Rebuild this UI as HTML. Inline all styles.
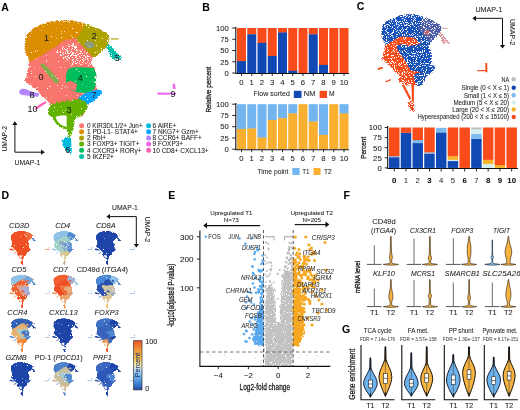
<!DOCTYPE html><html><head><meta charset="utf-8"><style>html,body{margin:0;padding:0;background:#fff;overflow:hidden}svg{display:block;will-change:transform;filter:blur(0.35px)}</style></head><body><svg xmlns="http://www.w3.org/2000/svg" width="520" height="410" viewBox="0 0 520 410" font-family='"Liberation Sans", sans-serif'><rect width="520" height="410" fill="#fff"/><text x="1.20" y="10.80" font-size="10.5" text-anchor="start" font-weight="bold" fill="#000" stroke="#000" stroke-width="0.06" >A</text><text x="202.30" y="10.70" font-size="10.5" text-anchor="start" font-weight="bold" fill="#000" stroke="#000" stroke-width="0.06" >B</text><text x="356.80" y="10.30" font-size="10.5" text-anchor="start" font-weight="bold" fill="#000" stroke="#000" stroke-width="0.06" >C</text><text x="1.60" y="198.60" font-size="10.5" text-anchor="start" font-weight="bold" fill="#000" stroke="#000" stroke-width="0.06" >D</text><text x="168.30" y="198.80" font-size="10.5" text-anchor="start" font-weight="bold" fill="#000" stroke="#000" stroke-width="0.06" >E</text><text x="343.60" y="198.80" font-size="10.5" text-anchor="start" font-weight="bold" fill="#000" stroke="#000" stroke-width="0.06" >F</text><text x="342.00" y="332.60" font-size="10.5" text-anchor="start" font-weight="bold" fill="#000" stroke="#000" stroke-width="0.06" >G</text><defs><filter id="spkL" x="-5%" y="-5%" width="110%" height="110%" color-interpolation-filters="sRGB"><feGaussianBlur in="SourceAlpha" stdDeviation="1.5" result="b"/><feTurbulence type="fractalNoise" baseFrequency="0.9" numOctaves="2" seed="21" result="n"/><feColorMatrix in="n" type="matrix" values="0 0 0 0 0 0 0 0 0 0 0 0 0 0 0 1 0 0 0 0" result="na"/><feComposite in="b" in2="na" operator="arithmetic" k1="0" k2="0.6" k3="2.0" k4="-1.2" result="m"/><feColorMatrix in="m" type="matrix" values="0 0 0 0 0 0 0 0 0 0 0 0 0 0 0 0 0 0 12 -6.0" result="a"/><feComposite in="SourceGraphic" in2="a" operator="in"/></filter><filter id="spkA" x="-5%" y="-5%" width="110%" height="110%" color-interpolation-filters="sRGB"><feGaussianBlur in="SourceAlpha" stdDeviation="1.6" result="b"/><feTurbulence type="fractalNoise" baseFrequency="0.8" numOctaves="2" seed="4" result="n"/><feColorMatrix in="n" type="matrix" values="0 0 0 0 0 0 0 0 0 0 0 0 0 0 0 1 0 0 0 0" result="na"/><feComposite in="b" in2="na" operator="arithmetic" k1="0" k2="0.8" k3="1.4" k4="-0.6" result="m"/><feColorMatrix in="m" type="matrix" values="0 0 0 0 0 0 0 0 0 0 0 0 0 0 0 0 0 0 12 -6.0" result="a"/><feComposite in="SourceGraphic" in2="a" operator="in"/></filter><filter id="spkC" x="-5%" y="-5%" width="110%" height="110%" color-interpolation-filters="sRGB"><feGaussianBlur in="SourceAlpha" stdDeviation="1.2" result="b"/><feTurbulence type="fractalNoise" baseFrequency="0.9" numOctaves="2" seed="7" result="n"/><feColorMatrix in="n" type="matrix" values="0 0 0 0 0 0 0 0 0 0 0 0 0 0 0 1 0 0 0 0" result="na"/><feComposite in="b" in2="na" operator="arithmetic" k1="0" k2="0.6" k3="2.0" k4="-0.87" result="m"/><feColorMatrix in="m" type="matrix" values="0 0 0 0 0 0 0 0 0 0 0 0 0 0 0 0 0 0 12 -6.0" result="a"/><feComposite in="SourceGraphic" in2="a" operator="in"/></filter><filter id="spkD" x="-5%" y="-5%" width="110%" height="110%" color-interpolation-filters="sRGB"><feGaussianBlur in="SourceAlpha" stdDeviation="0.6" result="b"/><feTurbulence type="fractalNoise" baseFrequency="0.9" numOctaves="2" seed="9" result="n"/><feColorMatrix in="n" type="matrix" values="0 0 0 0 0 0 0 0 0 0 0 0 0 0 0 1 0 0 0 0" result="na"/><feComposite in="b" in2="na" operator="arithmetic" k1="0" k2="0.8" k3="1.4" k4="-0.6" result="m"/><feColorMatrix in="m" type="matrix" values="0 0 0 0 0 0 0 0 0 0 0 0 0 0 0 0 0 0 12 -6.0" result="a"/><feComposite in="SourceGraphic" in2="a" operator="in"/></filter><filter id="spkE" x="-5%" y="-5%" width="110%" height="110%" color-interpolation-filters="sRGB"><feGaussianBlur in="SourceAlpha" stdDeviation="0.8" result="b"/><feTurbulence type="fractalNoise" baseFrequency="1.1" numOctaves="2" seed="13" result="n"/><feColorMatrix in="n" type="matrix" values="0 0 0 0 0 0 0 0 0 0 0 0 0 0 0 1 0 0 0 0" result="na"/><feComposite in="b" in2="na" operator="arithmetic" k1="0" k2="0.8" k3="1.6" k4="-0.75" result="m"/><feColorMatrix in="m" type="matrix" values="0 0 0 0 0 0 0 0 0 0 0 0 0 0 0 0 0 0 12 -6.0" result="a"/><feComposite in="SourceGraphic" in2="a" operator="in"/></filter></defs><g filter="url(#spkA)"><path d="M25.9,34.5 L31.7,29.6 L39.5,24.8 L49.3,21.8 L59.0,20.0 L72.5,20.3 L85.0,24.4 L97.5,28.1 L106.3,32.5 L110.0,36.3 L108.8,42.5 L105.0,48.8 L101.3,52.5 L96.3,56.3 L93.0,58.5 L91.0,62.0 L91.5,66.0 L95.1,69.0 L96.5,76.3 L95.8,83.6 L94.4,88.0 L90.0,95.0 L86.0,104.0 L70.0,106.0 L50.4,106.5 L47.9,101.6 L41.8,96.7 L38.2,91.8 L32.0,87.0 L27.2,83.3 L23.5,80.9 L26.0,77.2 L27.2,71.1 L28.4,65.0 L29.0,61.0 L27.8,58.0 L25.0,52.0 L24.6,46.5 L24.9,40.0Z" fill="#F8766D"/><path d="M46.0,62.4 L52.0,60.5 L64.8,63.1 L78.9,60.3 L90.2,61.7 L95.5,68.6 L95.5,80.1 L98.1,92.9 L87.8,105.6 L82.6,117.1 L79.0,115.8 L68.0,99.2 L56.0,79.7 L47.5,68.6Z" fill="#F8766D"/><path d="M40.0,64.5 L43.0,63.0 L50.0,70.0 L58.0,79.0 L59.0,83.0 L55.0,83.0 L48.0,75.0Z" fill="#84AC48"/><path d="M24.9,40.0 L25.9,34.5 L31.7,29.6 L39.5,24.8 L49.3,21.8 L59.0,20.0 L72.5,20.3 L80.0,22.0 L86.0,23.5 L83.0,28.0 L80.0,34.0 L77.0,38.0 L72.0,39.0 L66.1,39.6 L61.5,42.0 L56.9,46.0 L50.0,50.0 L43.0,54.6 L37.3,58.0 L30.0,61.5 L29.0,61.0 L27.8,58.0 L25.0,52.0 L24.6,46.5Z" fill="#DB8E00"/><path d="M86.0,23.5 L88.4,23.8 L97.5,28.1 L106.3,32.5 L110.0,36.3 L108.8,42.5 L105.0,48.8 L101.3,52.5 L96.3,56.3 L93.0,57.5 L90.0,54.0 L85.0,49.0 L80.0,43.5 L76.5,40.0 L77.0,38.0 L80.0,34.0 L83.0,28.0Z" fill="#AEA200"/><path d="M84.0,45.0 L87.0,41.0 L92.0,41.5 L95.0,44.0 L93.0,48.0 L88.0,48.5Z" fill="#8E9C78"/><path d="M68.0,69.0 L76.0,67.0 L86.0,67.5 L94.0,68.0 L96.5,75.0 L96.0,84.0 L94.5,89.0 L90.0,92.0 L84.0,93.0 L76.0,92.0 L69.0,89.0 L66.0,83.0 L66.0,75.0Z" fill="#00BD5C"/><path d="M64.5,84.0 L70.0,80.5 L77.0,84.0 L76.0,91.0 L69.0,89.0Z" fill="#F8766D"/><path d="M79.0,97.0 L84.0,94.0 L90.0,91.5 L96.0,90.0 L100.0,89.5 L103.9,92.0 L101.0,95.0 L97.0,99.0 L93.0,102.0 L88.0,104.5 L83.0,105.6 L79.0,103.0 L78.0,100.0Z" fill="#00A6FF"/><path d="M47.5,110.0 L50.0,106.0 L52.0,103.0 L55.0,104.5 L57.0,101.0 L59.5,103.5 L62.0,100.5 L65.0,102.5 L67.0,99.5 L70.5,101.8 L73.0,98.8 L76.0,100.5 L79.0,98.5 L82.0,100.8 L84.5,100.5 L86.5,104.0 L86.0,109.0 L82.0,113.0 L77.0,117.0 L75.0,120.0 L74.5,125.0 L73.0,131.0 L71.0,136.0 L70.0,138.5 L67.8,138.5 L67.3,132.0 L66.5,129.5 L63.0,129.0 L59.0,127.0 L56.0,124.0 L53.5,120.0 L52.0,117.5 L49.5,115.5 L47.5,113.0Z" fill="#64B200"/><path d="M74.0,100.0 L80.0,99.0 L86.0,103.0 L88.0,106.0 L87.0,110.0 L84.0,113.0 L82.5,115.0 L78.0,118.0 L75.0,117.0 L72.0,110.0 L70.0,104.0Z" fill="#64B200"/><path d="M55.5,117.0 L58.0,116.0 L62.0,115.5 L66.6,115.6 L66.6,126.5 L63.5,126.0 L60.0,124.0 L57.3,121.0Z" fill="#fff"/><path d="M63.0,138.0 L66.0,137.0 L70.0,137.5 L72.0,139.0 L71.5,145.0 L72.0,150.0 L71.5,154.2 L68.0,153.0 L64.0,149.0 L62.0,144.0 L61.5,140.0Z" fill="#00BADE"/><path d="M106.0,46.0 L108.5,44.0 L112.0,46.5 L115.0,50.0 L118.0,54.0 L121.5,56.0 L122.5,58.5 L120.0,60.5 L116.0,59.0 L113.0,61.0 L110.5,58.0 L109.0,53.0 L107.0,50.0Z" fill="#00C1A7"/></g><g filter="url(#spkL)"><path d="M57.0,48.5 L62.0,45.0 L68.0,42.5 L75.0,43.0 L80.0,46.5 L86.0,52.0 L92.0,56.5 L95.0,58.5 L95.0,64.0 L93.0,66.5 L85.0,66.0 L72.0,65.0 L62.0,59.5 L55.0,53.0Z" fill="#fff"/></g><g><path d="M111.0,38.2 L118.8,38.4 L118.8,39.6 L111.0,39.6Z" fill="#AEA200"/><path d="M19.3,91.0 L21.0,89.0 L24.0,88.8 L27.0,89.5 L30.0,91.0 L35.0,92.5 L39.4,93.5 L38.0,96.7 L32.0,96.5 L27.0,95.5 L22.0,95.0 L19.3,93.5Z" fill="#B385FF"/><path d="M34.5,108.5 L40.0,104.2 L45.5,101.0 L46.5,102.8 L41.0,106.5 L35.5,110.0Z" fill="#FF63B6"/><path d="M157.4,92.6 L165.0,92.8 L176.0,92.8 L176.0,94.6 L165.0,94.8 L157.4,94.4Z" fill="#EF67EB"/><path d="M172.6,83.7 L175.0,83.7 L175.6,89.0 L173.0,89.0Z" fill="#EF67EB"/></g><text x="40.90" y="79.50" font-size="9" text-anchor="middle" fill="#1a1a1a" stroke="#1a1a1a" stroke-width="0.06" >0</text><text x="46.40" y="41.20" font-size="9" text-anchor="middle" fill="#1a1a1a" stroke="#1a1a1a" stroke-width="0.06" >1</text><text x="94.30" y="39.10" font-size="9" text-anchor="middle" fill="#1a1a1a" stroke="#1a1a1a" stroke-width="0.06" >2</text><text x="69.00" y="113.20" font-size="9" text-anchor="middle" fill="#1a1a1a" stroke="#1a1a1a" stroke-width="0.06" >3</text><text x="80.30" y="81.40" font-size="9" text-anchor="middle" fill="#1a1a1a" stroke="#1a1a1a" stroke-width="0.06" >4</text><text x="117.30" y="60.50" font-size="9" text-anchor="middle" fill="#1a1a1a" stroke="#1a1a1a" stroke-width="0.06" >5</text><text x="67.80" y="153.00" font-size="9" text-anchor="middle" fill="#1a1a1a" stroke="#1a1a1a" stroke-width="0.06" >6</text><text x="94.00" y="97.60" font-size="9" text-anchor="middle" fill="#1a1a1a" stroke="#1a1a1a" stroke-width="0.06" >7</text><text x="31.90" y="97.60" font-size="9" text-anchor="middle" fill="#1a1a1a" stroke="#1a1a1a" stroke-width="0.06" >8</text><text x="173.00" y="96.70" font-size="9" text-anchor="middle" fill="#1a1a1a" stroke="#1a1a1a" stroke-width="0.06" >9</text><text x="32.50" y="112.20" font-size="9" text-anchor="middle" fill="#1a1a1a" stroke="#1a1a1a" stroke-width="0.06" >10</text><path d="M14.9,152.2 V124.5 M14.9,152.2 H41.5" stroke="#111" stroke-width="1" fill="none"/><path d="M12.3,125 L14.9,121.2 L17.5,125Z M41,149.6 L44.8,152.2 L41,154.8Z" fill="#111"/><text x="6.60" y="138.80" font-size="7" text-anchor="middle" fill="#222" stroke="#222" stroke-width="0.06" textLength="25.60" lengthAdjust="spacingAndGlyphs" transform="rotate(-90 6.60 138.80)" >UMAP-2</text><text x="27.40" y="164.50" font-size="7" text-anchor="middle" fill="#222" stroke="#222" stroke-width="0.06" textLength="25.60" lengthAdjust="spacingAndGlyphs" >UMAP-1</text><circle cx="81.6" cy="125.70" r="2.5" fill="#F8766D"/><text x="87.00" y="128.00" font-size="6.5" text-anchor="start" fill="#222" stroke="#222" stroke-width="0.06" textLength="55.60" lengthAdjust="spacingAndGlyphs" >0 KIR3DL1/2+ Jun+</text><circle cx="81.6" cy="131.84" r="2.5" fill="#DB8E00"/><text x="87.00" y="134.14" font-size="6.5" text-anchor="start" fill="#222" stroke="#222" stroke-width="0.06" >1 PD-L1- STAT4+</text><circle cx="81.6" cy="137.98" r="2.5" fill="#AEA200"/><text x="87.00" y="140.28" font-size="6.5" text-anchor="start" fill="#222" stroke="#222" stroke-width="0.06" >2 Rbl+</text><circle cx="81.6" cy="144.12" r="2.5" fill="#64B200"/><text x="87.00" y="146.42" font-size="6.5" text-anchor="start" fill="#222" stroke="#222" stroke-width="0.06" >3 FOXP3+ TIGIT+</text><circle cx="81.6" cy="150.26" r="2.5" fill="#00BD5C"/><text x="87.00" y="152.56" font-size="6.5" text-anchor="start" fill="#222" stroke="#222" stroke-width="0.06" >4 CXCR3+ ROR&#947;+</text><circle cx="81.6" cy="156.40" r="2.5" fill="#00C1A7"/><text x="87.00" y="158.70" font-size="6.5" text-anchor="start" fill="#222" stroke="#222" stroke-width="0.06" >5 IKZF2+</text><circle cx="148.6" cy="125.70" r="2.5" fill="#00BADE"/><text x="152.60" y="128.00" font-size="6.5" text-anchor="start" fill="#222" stroke="#222" stroke-width="0.06" >6 AIRE+</text><circle cx="148.6" cy="131.84" r="2.5" fill="#00A6FF"/><text x="152.60" y="134.14" font-size="6.5" text-anchor="start" fill="#222" stroke="#222" stroke-width="0.06" >7 NKG7+ Gzm+</text><circle cx="148.6" cy="137.98" r="2.5" fill="#B385FF"/><text x="152.60" y="140.28" font-size="6.5" text-anchor="start" fill="#222" stroke="#222" stroke-width="0.06" >8 CCR6+ BAFF+</text><circle cx="148.6" cy="144.12" r="2.5" fill="#EF67EB"/><text x="152.60" y="146.42" font-size="6.5" text-anchor="start" fill="#222" stroke="#222" stroke-width="0.06" >9 FOXP3+</text><circle cx="148.6" cy="150.26" r="2.5" fill="#FF63B6"/><text x="152.60" y="152.56" font-size="6.5" text-anchor="start" fill="#222" stroke="#222" stroke-width="0.06" >10 CD8+ CXCL13+</text><rect x="237.00" y="28.00" width="9" height="33.38" fill="#FA4B1A"/><rect x="237.00" y="61.08" width="9" height="11.93" fill="#1149B4"/><rect x="247.25" y="28.00" width="9" height="6.60" fill="#FA4B1A"/><rect x="247.25" y="34.30" width="9" height="38.70" fill="#1149B4"/><rect x="257.50" y="28.00" width="9" height="15.15" fill="#FA4B1A"/><rect x="257.50" y="42.85" width="9" height="30.15" fill="#1149B4"/><rect x="267.75" y="28.00" width="9" height="28.20" fill="#FA4B1A"/><rect x="267.75" y="55.90" width="9" height="17.10" fill="#1149B4"/><rect x="278.00" y="28.00" width="9" height="4.80" fill="#FA4B1A"/><rect x="278.00" y="32.50" width="9" height="40.50" fill="#1149B4"/><rect x="288.25" y="28.00" width="9" height="43.05" fill="#FA4B1A"/><rect x="288.25" y="70.75" width="9" height="2.25" fill="#1149B4"/><rect x="298.50" y="28.00" width="9" height="45.30" fill="#FA4B1A"/><rect x="308.75" y="28.00" width="9" height="6.60" fill="#FA4B1A"/><rect x="308.75" y="34.30" width="9" height="38.70" fill="#1149B4"/><rect x="319.00" y="28.00" width="9" height="37.20" fill="#FA4B1A"/><rect x="319.00" y="64.90" width="9" height="8.10" fill="#1149B4"/><rect x="329.25" y="28.00" width="9" height="45.30" fill="#FA4B1A"/><rect x="339.50" y="28.00" width="9" height="45.30" fill="#FA4B1A"/><path d="M235.8,26.80 V73.50 H349" stroke="#111" stroke-width="1.1" fill="none"/><path d="M232.2,73.00 H236" stroke="#111" stroke-width="0.9"/><text x="228.80" y="75.75" font-size="7.7" text-anchor="end" fill="#222" stroke="#222" stroke-width="0.06" >0</text><path d="M232.2,61.75 H236" stroke="#111" stroke-width="0.9"/><text x="228.80" y="64.50" font-size="7.7" text-anchor="end" fill="#222" stroke="#222" stroke-width="0.06" >25</text><path d="M232.2,50.50 H236" stroke="#111" stroke-width="0.9"/><text x="228.80" y="53.25" font-size="7.7" text-anchor="end" fill="#222" stroke="#222" stroke-width="0.06" >50</text><path d="M232.2,39.25 H236" stroke="#111" stroke-width="0.9"/><text x="228.80" y="42.00" font-size="7.7" text-anchor="end" fill="#222" stroke="#222" stroke-width="0.06" >75</text><path d="M232.2,28.00 H236" stroke="#111" stroke-width="0.9"/><text x="228.80" y="30.75" font-size="7.7" text-anchor="end" fill="#222" stroke="#222" stroke-width="0.06" >100</text><path d="M241.50,73.50 V76.00" stroke="#111" stroke-width="0.9"/><text x="241.50" y="84.90" font-size="7.7" text-anchor="middle" fill="#222" stroke="#222" stroke-width="0.06" >0</text><path d="M251.75,73.50 V76.00" stroke="#111" stroke-width="0.9"/><text x="251.75" y="84.90" font-size="7.7" text-anchor="middle" fill="#222" stroke="#222" stroke-width="0.06" >1</text><path d="M262.00,73.50 V76.00" stroke="#111" stroke-width="0.9"/><text x="262.00" y="84.90" font-size="7.7" text-anchor="middle" fill="#222" stroke="#222" stroke-width="0.06" >2</text><path d="M272.25,73.50 V76.00" stroke="#111" stroke-width="0.9"/><text x="272.25" y="84.90" font-size="7.7" text-anchor="middle" fill="#222" stroke="#222" stroke-width="0.06" >3</text><path d="M282.50,73.50 V76.00" stroke="#111" stroke-width="0.9"/><text x="282.50" y="84.90" font-size="7.7" text-anchor="middle" fill="#222" stroke="#222" stroke-width="0.06" >4</text><path d="M292.75,73.50 V76.00" stroke="#111" stroke-width="0.9"/><text x="292.75" y="84.90" font-size="7.7" text-anchor="middle" fill="#222" stroke="#222" stroke-width="0.06" >5</text><path d="M303.00,73.50 V76.00" stroke="#111" stroke-width="0.9"/><text x="303.00" y="84.90" font-size="7.7" text-anchor="middle" fill="#222" stroke="#222" stroke-width="0.06" >6</text><path d="M313.25,73.50 V76.00" stroke="#111" stroke-width="0.9"/><text x="313.25" y="84.90" font-size="7.7" text-anchor="middle" fill="#222" stroke="#222" stroke-width="0.06" >7</text><path d="M323.50,73.50 V76.00" stroke="#111" stroke-width="0.9"/><text x="323.50" y="84.90" font-size="7.7" text-anchor="middle" fill="#222" stroke="#222" stroke-width="0.06" >8</text><path d="M333.75,73.50 V76.00" stroke="#111" stroke-width="0.9"/><text x="333.75" y="84.90" font-size="7.7" text-anchor="middle" fill="#222" stroke="#222" stroke-width="0.06" >9</text><path d="M344.00,73.50 V76.00" stroke="#111" stroke-width="0.9"/><text x="344.00" y="84.90" font-size="7.7" text-anchor="middle" fill="#222" stroke="#222" stroke-width="0.06" >10</text><rect x="237.00" y="104.20" width="9" height="25.05" fill="#72B5F0"/><rect x="237.00" y="128.95" width="9" height="20.25" fill="#F9AF30"/><rect x="247.25" y="104.20" width="9" height="24.60" fill="#72B5F0"/><rect x="247.25" y="128.50" width="9" height="20.70" fill="#F9AF30"/><rect x="257.50" y="104.20" width="9" height="33.60" fill="#72B5F0"/><rect x="257.50" y="137.50" width="9" height="11.70" fill="#F9AF30"/><rect x="267.75" y="104.20" width="9" height="16.05" fill="#72B5F0"/><rect x="267.75" y="119.95" width="9" height="29.25" fill="#F9AF30"/><rect x="278.00" y="104.20" width="9" height="14.25" fill="#72B5F0"/><rect x="278.00" y="118.15" width="9" height="31.05" fill="#F9AF30"/><rect x="288.25" y="104.20" width="9" height="9.52" fill="#72B5F0"/><rect x="288.25" y="113.42" width="9" height="35.77" fill="#F9AF30"/><rect x="298.50" y="104.20" width="9" height="45.00" fill="#F9AF30"/><rect x="308.75" y="104.20" width="9" height="17.62" fill="#72B5F0"/><rect x="308.75" y="121.53" width="9" height="27.67" fill="#F9AF30"/><rect x="319.00" y="104.20" width="9" height="30.90" fill="#72B5F0"/><rect x="319.00" y="134.80" width="9" height="14.40" fill="#F9AF30"/><rect x="329.25" y="104.20" width="9" height="45.00" fill="#F9AF30"/><rect x="339.50" y="104.20" width="9" height="9.52" fill="#72B5F0"/><rect x="339.50" y="113.42" width="9" height="35.77" fill="#F9AF30"/><path d="M235.8,103.00 V149.70 H349" stroke="#111" stroke-width="1.1" fill="none"/><path d="M232.2,149.20 H236" stroke="#111" stroke-width="0.9"/><text x="228.80" y="151.95" font-size="7.7" text-anchor="end" fill="#222" stroke="#222" stroke-width="0.06" >0</text><path d="M232.2,137.95 H236" stroke="#111" stroke-width="0.9"/><text x="228.80" y="140.70" font-size="7.7" text-anchor="end" fill="#222" stroke="#222" stroke-width="0.06" >25</text><path d="M232.2,126.70 H236" stroke="#111" stroke-width="0.9"/><text x="228.80" y="129.45" font-size="7.7" text-anchor="end" fill="#222" stroke="#222" stroke-width="0.06" >50</text><path d="M232.2,115.45 H236" stroke="#111" stroke-width="0.9"/><text x="228.80" y="118.20" font-size="7.7" text-anchor="end" fill="#222" stroke="#222" stroke-width="0.06" >75</text><path d="M232.2,104.20 H236" stroke="#111" stroke-width="0.9"/><text x="228.80" y="106.95" font-size="7.7" text-anchor="end" fill="#222" stroke="#222" stroke-width="0.06" >100</text><path d="M241.50,149.70 V152.20" stroke="#111" stroke-width="0.9"/><text x="241.50" y="161.10" font-size="7.7" text-anchor="middle" fill="#222" stroke="#222" stroke-width="0.06" >0</text><path d="M251.75,149.70 V152.20" stroke="#111" stroke-width="0.9"/><text x="251.75" y="161.10" font-size="7.7" text-anchor="middle" fill="#222" stroke="#222" stroke-width="0.06" >1</text><path d="M262.00,149.70 V152.20" stroke="#111" stroke-width="0.9"/><text x="262.00" y="161.10" font-size="7.7" text-anchor="middle" fill="#222" stroke="#222" stroke-width="0.06" >2</text><path d="M272.25,149.70 V152.20" stroke="#111" stroke-width="0.9"/><text x="272.25" y="161.10" font-size="7.7" text-anchor="middle" fill="#222" stroke="#222" stroke-width="0.06" >3</text><path d="M282.50,149.70 V152.20" stroke="#111" stroke-width="0.9"/><text x="282.50" y="161.10" font-size="7.7" text-anchor="middle" fill="#222" stroke="#222" stroke-width="0.06" >4</text><path d="M292.75,149.70 V152.20" stroke="#111" stroke-width="0.9"/><text x="292.75" y="161.10" font-size="7.7" text-anchor="middle" fill="#222" stroke="#222" stroke-width="0.06" >5</text><path d="M303.00,149.70 V152.20" stroke="#111" stroke-width="0.9"/><text x="303.00" y="161.10" font-size="7.7" text-anchor="middle" fill="#222" stroke="#222" stroke-width="0.06" >6</text><path d="M313.25,149.70 V152.20" stroke="#111" stroke-width="0.9"/><text x="313.25" y="161.10" font-size="7.7" text-anchor="middle" fill="#222" stroke="#222" stroke-width="0.06" >7</text><path d="M323.50,149.70 V152.20" stroke="#111" stroke-width="0.9"/><text x="323.50" y="161.10" font-size="7.7" text-anchor="middle" fill="#222" stroke="#222" stroke-width="0.06" >8</text><path d="M333.75,149.70 V152.20" stroke="#111" stroke-width="0.9"/><text x="333.75" y="161.10" font-size="7.7" text-anchor="middle" fill="#222" stroke="#222" stroke-width="0.06" >9</text><path d="M344.00,149.70 V152.20" stroke="#111" stroke-width="0.9"/><text x="344.00" y="161.10" font-size="7.7" text-anchor="middle" fill="#222" stroke="#222" stroke-width="0.06" >10</text><text x="210.60" y="89.60" font-size="8.0" text-anchor="middle" fill="#222" textLength="46.00" lengthAdjust="spacingAndGlyphs" transform="rotate(-90 210.60 89.60)" stroke="#222" stroke-width="0.3">Relative percent</text><text x="253.50" y="96.00" font-size="7.2" text-anchor="start" fill="#222" stroke="#222" stroke-width="0.06" textLength="36.30" lengthAdjust="spacingAndGlyphs" >Flow sorted</text><rect x="293.8" y="90.8" width="7.7" height="7.2" fill="#1149B4"/><text x="303.80" y="96.00" font-size="7.2" text-anchor="start" fill="#222" stroke="#222" stroke-width="0.06" textLength="11.60" lengthAdjust="spacingAndGlyphs" >NM</text><rect x="319.6" y="90.8" width="7.4" height="7.2" fill="#FA4B1A"/><text x="329.00" y="96.00" font-size="7.2" text-anchor="start" fill="#222" stroke="#222" stroke-width="0.06" textLength="5.60" lengthAdjust="spacingAndGlyphs" >M</text><text x="257.30" y="174.10" font-size="7.2" text-anchor="start" fill="#222" stroke="#222" stroke-width="0.06" textLength="31.20" lengthAdjust="spacingAndGlyphs" >Time point</text><rect x="292.3" y="168" width="7.3" height="7" fill="#72B5F0"/><text x="302.30" y="174.10" font-size="7.2" text-anchor="start" fill="#222" stroke="#222" stroke-width="0.06" textLength="7.30" lengthAdjust="spacingAndGlyphs" >T1</text><rect x="313.5" y="168" width="7" height="7" fill="#F9AF30"/><text x="324.00" y="174.10" font-size="7.2" text-anchor="start" fill="#222" stroke="#222" stroke-width="0.06" textLength="7.70" lengthAdjust="spacingAndGlyphs" >T2</text><g filter="url(#spkC)"><g transform="translate(381.2,14.4) scale(0.70,0.735) translate(-24,-20)"><path d="M25.9,34.5 L31.7,29.6 L39.5,24.8 L49.3,21.8 L59.0,20.0 L72.5,20.3 L85.0,24.4 L97.5,28.1 L106.3,32.5 L110.0,36.3 L108.8,42.5 L105.0,48.8 L101.3,52.5 L96.3,56.3 L93.0,58.5 L91.0,62.0 L91.5,66.0 L95.1,69.0 L96.5,76.3 L95.8,83.6 L94.4,88.0 L90.0,95.0 L86.0,104.0 L70.0,106.0 L50.4,106.5 L47.9,101.6 L41.8,96.7 L38.2,91.8 L32.0,87.0 L27.2,83.3 L23.5,80.9 L26.0,77.2 L27.2,71.1 L28.4,65.0 L29.0,61.0 L27.8,58.0 L25.0,52.0 L24.6,46.5 L24.9,40.0Z" fill="#FA4B1A"/><path d="M46.0,62.4 L52.0,60.5 L64.8,63.1 L78.9,60.3 L90.2,61.7 L95.5,68.6 L95.5,80.1 L98.1,92.9 L87.8,105.6 L82.6,117.1 L79.0,115.8 L68.0,99.2 L56.0,79.7 L47.5,68.6Z" fill="#1652BA"/><path d="M24.9,40.0 L25.9,34.5 L31.7,29.6 L39.5,24.8 L49.3,21.8 L59.0,20.0 L72.5,20.3 L80.0,22.0 L86.0,23.5 L83.0,28.0 L80.0,34.0 L77.0,38.0 L72.0,39.0 L66.1,39.6 L61.5,42.0 L56.9,46.0 L50.0,50.0 L43.0,54.6 L37.3,58.0 L30.0,61.5 L29.0,61.0 L27.8,58.0 L25.0,52.0 L24.6,46.5Z" fill="#1652BA"/><path d="M25.9,34.5 L31.7,29.6 L39.5,24.8 L49.3,21.8 L59.0,20.0 L72.5,20.3 L85.0,24.4 L97.5,28.1 L106.3,32.5 L110.0,36.3 L108.8,42.5 L105.0,48.8 L101.3,52.5 L96.3,56.3 L95.0,62.0 L90.0,63.0 L80.0,61.0 L75.0,55.0 L70.0,51.5 L60.0,50.5 L50.0,50.5 L40.0,51.0 L32.0,53.0 L28.0,55.0 L25.0,52.0 L24.6,46.5 L24.9,40.0Z" fill="#1652BA"/><path d="M86.0,23.5 L88.4,23.8 L97.5,28.1 L106.3,32.5 L110.0,36.3 L108.8,42.5 L105.0,48.8 L101.3,52.5 L96.3,56.3 L93.0,57.5 L90.0,54.0 L85.0,49.0 L80.0,43.5 L76.5,40.0 L77.0,38.0 L80.0,34.0 L83.0,28.0Z" fill="#4A5CA8"/><path d="M84.0,45.0 L87.0,41.0 L92.0,41.5 L95.0,44.0 L93.0,48.0 L88.0,48.5Z" fill="#B86A78"/><path d="M68.0,69.0 L76.0,67.0 L86.0,67.5 L94.0,68.0 L96.5,75.0 L96.0,84.0 L94.5,89.0 L90.0,92.0 L84.0,93.0 L76.0,92.0 L69.0,89.0 L66.0,83.0 L66.0,75.0Z" fill="#1652BA"/><path d="M64.5,84.0 L70.0,80.5 L77.0,84.0 L76.0,91.0 L69.0,89.0Z" fill="#1652BA"/><path d="M79.0,97.0 L84.0,94.0 L90.0,91.5 L96.0,90.0 L100.0,89.5 L103.9,92.0 L101.0,95.0 L97.0,99.0 L93.0,102.0 L88.0,104.5 L83.0,105.6 L79.0,103.0 L78.0,100.0Z" fill="#1652BA"/><path d="M48.8,106.0 L52.0,101.0 L58.0,98.0 L66.0,96.5 L74.0,97.5 L80.0,99.0 L86.0,103.0 L88.0,106.0 L87.0,110.0 L84.0,113.0 L80.0,116.0 L70.0,117.5 L60.0,116.5 L52.0,114.0 L48.0,111.0Z" fill="#FA4B1A"/><path d="M74.0,100.0 L80.0,99.0 L86.0,103.0 L88.0,106.0 L87.0,110.0 L84.0,113.0 L82.5,115.0 L78.0,118.0 L75.0,117.0 L72.0,110.0 L70.0,104.0Z" fill="#1652BA"/><path d="M63.0,138.0 L66.0,137.0 L70.0,137.5 L72.0,139.0 L71.5,145.0 L72.0,150.0 L71.5,154.2 L68.0,153.0 L64.0,149.0 L62.0,144.0 L61.5,140.0Z" fill="#FA4B1A"/><path d="M106.0,46.0 L108.5,44.0 L112.0,46.5 L115.0,50.0 L118.0,54.0 L121.5,56.0 L122.5,58.5 L120.0,60.5 L116.0,59.0 L113.0,61.0 L110.5,58.0 L109.0,53.0 L107.0,50.0Z" fill="#D89A9A"/></g></g><g transform="translate(381.2,14.4) scale(0.70,0.735) translate(-24,-20)"><path d="M111.0,38.2 L118.8,38.4 L118.8,39.6 L111.0,39.6Z" fill="#C89090"/><path d="M53.5,116.0 L57.0,116.0 L67.0,134.5 L64.5,136.5Z" fill="#FA4B1A"/><path d="M67.2,115.0 L71.0,115.0 L70.6,139.0 L68.0,139.0Z" fill="#FA4B1A"/></g><path d="M377.5,68.2 L382.5,66.8 L383,68.6 L378,70Z M385,81.5 L390.5,79 L391,80.3 L385.5,82.6Z M477,70.2 L486,69.8 L486,71.2 L477,71.2Z M485.3,63 L487.2,63 L487.4,72.3 L485.5,72.3Z" fill="#FA4B1A"/><path d="M502.5,18.3 H475.5 M502.5,18.3 V45.5" stroke="#111" stroke-width="1" fill="none"/><path d="M476,15.7 L472.4,18.3 L476,20.9Z M499.9,45 L502.5,48.6 L505.1,45Z" fill="#111"/><text x="488.90" y="11.50" font-size="7" text-anchor="middle" fill="#222" stroke="#222" stroke-width="0.06" textLength="27.00" lengthAdjust="spacingAndGlyphs" >UMAP-1</text><text x="509.70" y="32.20" font-size="7" text-anchor="middle" fill="#222" stroke="#222" stroke-width="0.06" textLength="26.40" lengthAdjust="spacingAndGlyphs" transform="rotate(90 509.70 32.20)" >UMAP-2</text><circle cx="513.7" cy="79.30" r="2.2" fill="#BDBDBD"/><text x="509.00" y="81.65" font-size="6.6" text-anchor="end" fill="#222" stroke="#222" stroke-width="0.06" textLength="7.40" lengthAdjust="spacingAndGlyphs" >NA</text><circle cx="513.7" cy="87.80" r="2.2" fill="#1149B4"/><text x="509.00" y="90.15" font-size="6.6" text-anchor="end" fill="#222" stroke="#222" stroke-width="0.06" textLength="47.60" lengthAdjust="spacingAndGlyphs" >Single (0 &lt; X &#8804; 1)</text><circle cx="513.7" cy="95.20" r="2.2" fill="#7DB9EE"/><text x="509.00" y="97.55" font-size="6.6" text-anchor="end" fill="#222" stroke="#222" stroke-width="0.06" textLength="45.00" lengthAdjust="spacingAndGlyphs" >Small (1 &lt; X &#8804; 5)</text><circle cx="513.7" cy="102.20" r="2.2" fill="#D5EFEF"/><text x="509.00" y="104.55" font-size="6.6" text-anchor="end" fill="#222" stroke="#222" stroke-width="0.06" textLength="55.60" lengthAdjust="spacingAndGlyphs" >Medium (5 &lt; X &#8804; 20)</text><circle cx="513.7" cy="109.50" r="2.2" fill="#F7B32B"/><text x="509.00" y="111.85" font-size="6.6" text-anchor="end" fill="#222" stroke="#222" stroke-width="0.06" textLength="56.70" lengthAdjust="spacingAndGlyphs" >Large (20 &lt; X &#8804; 200)</text><circle cx="513.7" cy="117.00" r="2.2" fill="#FA4B1A"/><text x="509.00" y="119.35" font-size="6.6" text-anchor="end" fill="#222" stroke="#222" stroke-width="0.06" textLength="91.60" lengthAdjust="spacingAndGlyphs" >Hyperexpanded (200 &lt; X &#8804; 15100)</text><rect x="389.00" y="157.19" width="10.5" height="10.76" fill="#1149B4"/><rect x="389.00" y="156.18" width="10.5" height="1.06" fill="#7DB9EE"/><rect x="389.00" y="127.50" width="10.5" height="28.73" fill="#FA4B1A"/><rect x="400.74" y="132.75" width="10.5" height="35.20" fill="#1149B4"/><rect x="400.74" y="127.50" width="10.5" height="5.30" fill="#FA4B1A"/><rect x="412.48" y="143.05" width="10.5" height="24.90" fill="#1149B4"/><rect x="412.48" y="140.02" width="10.5" height="3.08" fill="#7DB9EE"/><rect x="412.48" y="127.50" width="10.5" height="12.57" fill="#FA4B1A"/><rect x="424.22" y="153.56" width="10.5" height="14.39" fill="#1149B4"/><rect x="424.22" y="152.35" width="10.5" height="1.26" fill="#7DB9EE"/><rect x="424.22" y="127.50" width="10.5" height="24.90" fill="#FA4B1A"/><rect x="435.96" y="132.35" width="10.5" height="35.60" fill="#1149B4"/><rect x="435.96" y="127.90" width="10.5" height="4.49" fill="#7DB9EE"/><rect x="435.96" y="127.50" width="10.5" height="0.45" fill="#D5EFEF"/><rect x="447.70" y="161.03" width="10.5" height="6.92" fill="#1149B4"/><rect x="447.70" y="159.82" width="10.5" height="1.26" fill="#D5EFEF"/><rect x="447.70" y="156.18" width="10.5" height="3.69" fill="#F7B32B"/><rect x="447.70" y="127.50" width="10.5" height="28.73" fill="#FA4B1A"/><rect x="459.44" y="127.50" width="10.5" height="40.45" fill="#FA4B1A"/><rect x="471.18" y="138.81" width="10.5" height="29.14" fill="#1149B4"/><rect x="471.18" y="133.96" width="10.5" height="4.90" fill="#7DB9EE"/><rect x="471.18" y="129.32" width="10.5" height="4.70" fill="#D5EFEF"/><rect x="471.18" y="127.50" width="10.5" height="1.87" fill="#BDBDBD"/><rect x="482.92" y="163.86" width="10.5" height="4.09" fill="#D5EFEF"/><rect x="482.92" y="159.82" width="10.5" height="4.09" fill="#F7B32B"/><rect x="482.92" y="127.50" width="10.5" height="32.37" fill="#FA4B1A"/><rect x="494.66" y="165.07" width="10.5" height="2.88" fill="#F7B32B"/><rect x="494.66" y="127.50" width="10.5" height="37.62" fill="#FA4B1A"/><rect x="506.40" y="127.50" width="10.5" height="40.45" fill="#FA4B1A"/><path d="M387.7,126.0 V168.5 H518" stroke="#111" stroke-width="1.1" fill="none"/><path d="M384.7,167.90 H387.7" stroke="#111" stroke-width="0.9"/><text x="381.80" y="170.70" font-size="7.8" text-anchor="end" fill="#222" stroke="#222" stroke-width="0.06" >0</text><path d="M384.7,157.80 H387.7" stroke="#111" stroke-width="0.9"/><text x="381.80" y="160.60" font-size="7.8" text-anchor="end" fill="#222" stroke="#222" stroke-width="0.06" >25</text><path d="M384.7,147.70 H387.7" stroke="#111" stroke-width="0.9"/><text x="381.80" y="150.50" font-size="7.8" text-anchor="end" fill="#222" stroke="#222" stroke-width="0.06" >50</text><path d="M384.7,137.60 H387.7" stroke="#111" stroke-width="0.9"/><text x="381.80" y="140.40" font-size="7.8" text-anchor="end" fill="#222" stroke="#222" stroke-width="0.06" >75</text><path d="M384.7,127.50 H387.7" stroke="#111" stroke-width="0.9"/><text x="381.80" y="130.30" font-size="7.8" text-anchor="end" fill="#222" stroke="#222" stroke-width="0.06" >100</text><path d="M394.25,168.50 V171.50" stroke="#111" stroke-width="0.9"/><text x="394.25" y="183.20" font-size="7.8" text-anchor="middle" font-weight="bold" fill="#111" stroke="#111" stroke-width="0.06" >0</text><path d="M405.99,168.50 V171.50" stroke="#111" stroke-width="0.9"/><text x="405.99" y="183.20" font-size="7.8" text-anchor="middle" fill="#333" stroke="#333" stroke-width="0.06" >1</text><path d="M417.73,168.50 V171.50" stroke="#111" stroke-width="0.9"/><text x="417.73" y="183.20" font-size="7.8" text-anchor="middle" fill="#333" stroke="#333" stroke-width="0.06" >2</text><path d="M429.47,168.50 V171.50" stroke="#111" stroke-width="0.9"/><text x="429.47" y="183.20" font-size="7.8" text-anchor="middle" font-weight="bold" fill="#111" stroke="#111" stroke-width="0.06" >3</text><path d="M441.21,168.50 V171.50" stroke="#111" stroke-width="0.9"/><text x="441.21" y="183.20" font-size="7.8" text-anchor="middle" fill="#333" stroke="#333" stroke-width="0.06" >4</text><path d="M452.95,168.50 V171.50" stroke="#111" stroke-width="0.9"/><text x="452.95" y="183.20" font-size="7.8" text-anchor="middle" fill="#333" stroke="#333" stroke-width="0.06" >5</text><path d="M464.69,168.50 V171.50" stroke="#111" stroke-width="0.9"/><text x="464.69" y="183.20" font-size="7.8" text-anchor="middle" font-weight="bold" fill="#111" stroke="#111" stroke-width="0.06" >6</text><path d="M476.43,168.50 V171.50" stroke="#111" stroke-width="0.9"/><text x="476.43" y="183.20" font-size="7.8" text-anchor="middle" fill="#333" stroke="#333" stroke-width="0.06" >7</text><path d="M488.17,168.50 V171.50" stroke="#111" stroke-width="0.9"/><text x="488.17" y="183.20" font-size="7.8" text-anchor="middle" font-weight="bold" fill="#111" stroke="#111" stroke-width="0.06" >8</text><path d="M499.91,168.50 V171.50" stroke="#111" stroke-width="0.9"/><text x="499.91" y="183.20" font-size="7.8" text-anchor="middle" font-weight="bold" fill="#111" stroke="#111" stroke-width="0.06" >9</text><path d="M511.65,168.50 V171.50" stroke="#111" stroke-width="0.9"/><text x="511.65" y="183.20" font-size="7.8" text-anchor="middle" font-weight="bold" fill="#111" stroke="#111" stroke-width="0.06" >10</text><text x="366.20" y="147.80" font-size="7.8" text-anchor="middle" fill="#222" textLength="22.00" lengthAdjust="spacingAndGlyphs" transform="rotate(-90 366.20 147.80)" stroke="#222" stroke-width="0.3">Percent</text><g filter="url(#spkD)"><g transform="translate(9.50,231.00) scale(0.255) translate(-18.8,-20)"><path d="M25.9,34.5 L31.7,29.6 L39.5,24.8 L49.3,21.8 L59.0,20.0 L72.5,20.3 L85.0,24.4 L97.5,28.1 L106.3,32.5 L110.0,36.3 L108.8,42.5 L105.0,48.8 L101.3,52.5 L96.3,56.3 L93.0,58.5 L91.0,62.0 L91.5,66.0 L95.1,69.0 L96.5,76.3 L95.8,83.6 L94.4,88.0 L90.0,95.0 L86.0,104.0 L70.0,106.0 L50.4,106.5 L47.9,101.6 L41.8,96.7 L38.2,91.8 L32.0,87.0 L27.2,83.3 L23.5,80.9 L26.0,77.2 L27.2,71.1 L28.4,65.0 L29.0,61.0 L27.8,58.0 L25.0,52.0 L24.6,46.5 L24.9,40.0Z" fill="#EE5024"/><path d="M46.0,62.4 L52.0,60.5 L64.8,63.1 L78.9,60.3 L90.2,61.7 L95.5,68.6 L95.5,80.1 L98.1,92.9 L87.8,105.6 L82.6,117.1 L79.0,115.8 L68.0,99.2 L56.0,79.7 L47.5,68.6Z" fill="#EE5024"/><path d="M24.9,40.0 L25.9,34.5 L31.7,29.6 L39.5,24.8 L49.3,21.8 L59.0,20.0 L72.5,20.3 L80.0,22.0 L86.0,23.5 L83.0,28.0 L80.0,34.0 L77.0,38.0 L72.0,39.0 L66.1,39.6 L61.5,42.0 L56.9,46.0 L50.0,50.0 L43.0,54.6 L37.3,58.0 L30.0,61.5 L29.0,61.0 L27.8,58.0 L25.0,52.0 L24.6,46.5Z" fill="#EE5024"/><path d="M86.0,23.5 L88.4,23.8 L97.5,28.1 L106.3,32.5 L110.0,36.3 L108.8,42.5 L105.0,48.8 L101.3,52.5 L96.3,56.3 L93.0,57.5 L90.0,54.0 L85.0,49.0 L80.0,43.5 L76.5,40.0 L77.0,38.0 L80.0,34.0 L83.0,28.0Z" fill="#F07040"/><path d="M84.0,45.0 L87.0,41.0 L92.0,41.5 L95.0,44.0 L93.0,48.0 L88.0,48.5Z" fill="#EE5024"/><path d="M68.0,69.0 L76.0,67.0 L86.0,67.5 L94.0,68.0 L96.5,75.0 L96.0,84.0 L94.5,89.0 L90.0,92.0 L84.0,93.0 L76.0,92.0 L69.0,89.0 L66.0,83.0 L66.0,75.0Z" fill="#EE5024"/><path d="M64.5,84.0 L70.0,80.5 L77.0,84.0 L76.0,91.0 L69.0,89.0Z" fill="#EE5024"/><path d="M79.0,97.0 L84.0,94.0 L90.0,91.5 L96.0,90.0 L100.0,89.5 L103.9,92.0 L101.0,95.0 L97.0,99.0 L93.0,102.0 L88.0,104.5 L83.0,105.6 L79.0,103.0 L78.0,100.0Z" fill="#EE5024"/><path d="M47.5,110.0 L50.0,106.0 L52.0,103.0 L55.0,104.5 L57.0,101.0 L59.5,103.5 L62.0,100.5 L65.0,102.5 L67.0,99.5 L70.5,101.8 L73.0,98.8 L76.0,100.5 L79.0,98.5 L82.0,100.8 L84.5,100.5 L86.5,104.0 L86.0,109.0 L82.0,113.0 L77.0,117.0 L75.0,120.0 L74.5,125.0 L73.0,131.0 L71.0,136.0 L70.0,138.5 L67.8,138.5 L67.3,132.0 L66.5,129.5 L63.0,129.0 L59.0,127.0 L56.0,124.0 L53.5,120.0 L52.0,117.5 L49.5,115.5 L47.5,113.0Z" fill="#EE5024"/><path d="M74.0,100.0 L80.0,99.0 L86.0,103.0 L88.0,106.0 L87.0,110.0 L84.0,113.0 L82.5,115.0 L78.0,118.0 L75.0,117.0 L72.0,110.0 L70.0,104.0Z" fill="#EE5024"/><path d="M55.5,117.0 L58.0,116.0 L62.0,115.5 L66.6,115.6 L66.6,126.5 L63.5,126.0 L60.0,124.0 L57.3,121.0Z" fill="#fff"/><path d="M63.0,138.0 L66.0,137.0 L70.0,137.5 L72.0,139.0 L71.5,145.0 L72.0,150.0 L71.5,154.2 L68.0,153.0 L64.0,149.0 L62.0,144.0 L61.5,140.0Z" fill="#EE5024"/><path d="M106.0,46.0 L108.5,44.0 L112.0,46.5 L115.0,50.0 L118.0,54.0 L121.5,56.0 L122.5,58.5 L120.0,60.5 L116.0,59.0 L113.0,61.0 L110.5,58.0 L109.0,53.0 L107.0,50.0Z" fill="#4F86D0"/></g></g><g transform="translate(9.50,231.00) scale(0.255) translate(-18.8,-20)"><path d="M111.0,38.2 L118.8,38.4 L118.8,39.6 L111.0,39.6Z" fill="#F07040"/><path d="M19.3,91.0 L21.0,89.0 L24.0,88.8 L27.0,89.5 L30.0,91.0 L35.0,92.5 L39.4,93.5 L38.0,96.7 L32.0,96.5 L27.0,95.5 L22.0,95.0 L19.3,93.5Z" fill="#EE5024"/><path d="M34.5,108.5 L40.0,104.2 L45.5,101.0 L46.5,102.8 L41.0,106.5 L35.5,110.0Z" fill="#EE5024"/><path d="M157.4,92.6 L165.0,92.8 L176.0,92.8 L176.0,94.6 L165.0,94.8 L157.4,94.4Z" fill="#EE5024"/><path d="M172.6,83.7 L175.0,83.7 L175.6,89.0 L173.0,89.0Z" fill="#EE5024"/></g><text x="19.20" y="228.40" font-size="7.4" text-anchor="middle" fill="#222" stroke="#222" stroke-width="0.06" textLength="20.20" lengthAdjust="spacingAndGlyphs" ><tspan font-style="italic">CD3D</tspan></text><g filter="url(#spkD)"><g transform="translate(52.10,231.00) scale(0.255) translate(-18.8,-20)"><path d="M25.9,34.5 L31.7,29.6 L39.5,24.8 L49.3,21.8 L59.0,20.0 L72.5,20.3 L85.0,24.4 L97.5,28.1 L106.3,32.5 L110.0,36.3 L108.8,42.5 L105.0,48.8 L101.3,52.5 L96.3,56.3 L93.0,58.5 L91.0,62.0 L91.5,66.0 L95.1,69.0 L96.5,76.3 L95.8,83.6 L94.4,88.0 L90.0,95.0 L86.0,104.0 L70.0,106.0 L50.4,106.5 L47.9,101.6 L41.8,96.7 L38.2,91.8 L32.0,87.0 L27.2,83.3 L23.5,80.9 L26.0,77.2 L27.2,71.1 L28.4,65.0 L29.0,61.0 L27.8,58.0 L25.0,52.0 L24.6,46.5 L24.9,40.0Z" fill="#A0D0C8"/><path d="M46.0,62.4 L52.0,60.5 L64.8,63.1 L78.9,60.3 L90.2,61.7 L95.5,68.6 L95.5,80.1 L98.1,92.9 L87.8,105.6 L82.6,117.1 L79.0,115.8 L68.0,99.2 L56.0,79.7 L47.5,68.6Z" fill="#88A8C8"/><path d="M24.9,40.0 L25.9,34.5 L31.7,29.6 L39.5,24.8 L49.3,21.8 L59.0,20.0 L72.5,20.3 L80.0,22.0 L86.0,23.5 L83.0,28.0 L80.0,34.0 L77.0,38.0 L72.0,39.0 L66.1,39.6 L61.5,42.0 L56.9,46.0 L50.0,50.0 L43.0,54.6 L37.3,58.0 L30.0,61.5 L29.0,61.0 L27.8,58.0 L25.0,52.0 L24.6,46.5Z" fill="#8CC0E6"/><path d="M86.0,23.5 L88.4,23.8 L97.5,28.1 L106.3,32.5 L110.0,36.3 L108.8,42.5 L105.0,48.8 L101.3,52.5 L96.3,56.3 L93.0,57.5 L90.0,54.0 L85.0,49.0 L80.0,43.5 L76.5,40.0 L77.0,38.0 L80.0,34.0 L83.0,28.0Z" fill="#4F86D0"/><path d="M84.0,45.0 L87.0,41.0 L92.0,41.5 L95.0,44.0 L93.0,48.0 L88.0,48.5Z" fill="#A0D0C8"/><path d="M68.0,69.0 L76.0,67.0 L86.0,67.5 L94.0,68.0 L96.5,75.0 L96.0,84.0 L94.5,89.0 L90.0,92.0 L84.0,93.0 L76.0,92.0 L69.0,89.0 L66.0,83.0 L66.0,75.0Z" fill="#6A98D0"/><path d="M64.5,84.0 L70.0,80.5 L77.0,84.0 L76.0,91.0 L69.0,89.0Z" fill="#A0D0C8"/><path d="M79.0,97.0 L84.0,94.0 L90.0,91.5 L96.0,90.0 L100.0,89.5 L103.9,92.0 L101.0,95.0 L97.0,99.0 L93.0,102.0 L88.0,104.5 L83.0,105.6 L79.0,103.0 L78.0,100.0Z" fill="#4F86D0"/><path d="M47.5,110.0 L50.0,106.0 L52.0,103.0 L55.0,104.5 L57.0,101.0 L59.5,103.5 L62.0,100.5 L65.0,102.5 L67.0,99.5 L70.5,101.8 L73.0,98.8 L76.0,100.5 L79.0,98.5 L82.0,100.8 L84.5,100.5 L86.5,104.0 L86.0,109.0 L82.0,113.0 L77.0,117.0 L75.0,120.0 L74.5,125.0 L73.0,131.0 L71.0,136.0 L70.0,138.5 L67.8,138.5 L67.3,132.0 L66.5,129.5 L63.0,129.0 L59.0,127.0 L56.0,124.0 L53.5,120.0 L52.0,117.5 L49.5,115.5 L47.5,113.0Z" fill="#D8C890"/><path d="M74.0,100.0 L80.0,99.0 L86.0,103.0 L88.0,106.0 L87.0,110.0 L84.0,113.0 L82.5,115.0 L78.0,118.0 L75.0,117.0 L72.0,110.0 L70.0,104.0Z" fill="#D8C890"/><path d="M55.5,117.0 L58.0,116.0 L62.0,115.5 L66.6,115.6 L66.6,126.5 L63.5,126.0 L60.0,124.0 L57.3,121.0Z" fill="#fff"/><path d="M63.0,138.0 L66.0,137.0 L70.0,137.5 L72.0,139.0 L71.5,145.0 L72.0,150.0 L71.5,154.2 L68.0,153.0 L64.0,149.0 L62.0,144.0 L61.5,140.0Z" fill="#C0A080"/><path d="M106.0,46.0 L108.5,44.0 L112.0,46.5 L115.0,50.0 L118.0,54.0 L121.5,56.0 L122.5,58.5 L120.0,60.5 L116.0,59.0 L113.0,61.0 L110.5,58.0 L109.0,53.0 L107.0,50.0Z" fill="#4F86D0"/></g></g><g transform="translate(52.10,231.00) scale(0.255) translate(-18.8,-20)"><path d="M111.0,38.2 L118.8,38.4 L118.8,39.6 L111.0,39.6Z" fill="#4F86D0"/><path d="M19.3,91.0 L21.0,89.0 L24.0,88.8 L27.0,89.5 L30.0,91.0 L35.0,92.5 L39.4,93.5 L38.0,96.7 L32.0,96.5 L27.0,95.5 L22.0,95.0 L19.3,93.5Z" fill="#8CC0E6"/><path d="M34.5,108.5 L40.0,104.2 L45.5,101.0 L46.5,102.8 L41.0,106.5 L35.5,110.0Z" fill="#8CC0E6"/><path d="M157.4,92.6 L165.0,92.8 L176.0,92.8 L176.0,94.6 L165.0,94.8 L157.4,94.4Z" fill="#4F86D0"/><path d="M172.6,83.7 L175.0,83.7 L175.6,89.0 L173.0,89.0Z" fill="#4F86D0"/></g><text x="62.70" y="228.40" font-size="7.4" text-anchor="middle" fill="#222" stroke="#222" stroke-width="0.06" ><tspan font-style="italic">CD4</tspan></text><g filter="url(#spkD)"><g transform="translate(94.70,231.00) scale(0.255) translate(-18.8,-20)"><path d="M25.9,34.5 L31.7,29.6 L39.5,24.8 L49.3,21.8 L59.0,20.0 L72.5,20.3 L85.0,24.4 L97.5,28.1 L106.3,32.5 L110.0,36.3 L108.8,42.5 L105.0,48.8 L101.3,52.5 L96.3,56.3 L93.0,58.5 L91.0,62.0 L91.5,66.0 L95.1,69.0 L96.5,76.3 L95.8,83.6 L94.4,88.0 L90.0,95.0 L86.0,104.0 L70.0,106.0 L50.4,106.5 L47.9,101.6 L41.8,96.7 L38.2,91.8 L32.0,87.0 L27.2,83.3 L23.5,80.9 L26.0,77.2 L27.2,71.1 L28.4,65.0 L29.0,61.0 L27.8,58.0 L25.0,52.0 L24.6,46.5 L24.9,40.0Z" fill="#1D44A8"/><path d="M46.0,62.4 L52.0,60.5 L64.8,63.1 L78.9,60.3 L90.2,61.7 L95.5,68.6 L95.5,80.1 L98.1,92.9 L87.8,105.6 L82.6,117.1 L79.0,115.8 L68.0,99.2 L56.0,79.7 L47.5,68.6Z" fill="#1D44A8"/><path d="M24.9,40.0 L25.9,34.5 L31.7,29.6 L39.5,24.8 L49.3,21.8 L59.0,20.0 L72.5,20.3 L80.0,22.0 L86.0,23.5 L83.0,28.0 L80.0,34.0 L77.0,38.0 L72.0,39.0 L66.1,39.6 L61.5,42.0 L56.9,46.0 L50.0,50.0 L43.0,54.6 L37.3,58.0 L30.0,61.5 L29.0,61.0 L27.8,58.0 L25.0,52.0 L24.6,46.5Z" fill="#1D44A8"/><path d="M86.0,23.5 L88.4,23.8 L97.5,28.1 L106.3,32.5 L110.0,36.3 L108.8,42.5 L105.0,48.8 L101.3,52.5 L96.3,56.3 L93.0,57.5 L90.0,54.0 L85.0,49.0 L80.0,43.5 L76.5,40.0 L77.0,38.0 L80.0,34.0 L83.0,28.0Z" fill="#1D44A8"/><path d="M84.0,45.0 L87.0,41.0 L92.0,41.5 L95.0,44.0 L93.0,48.0 L88.0,48.5Z" fill="#1D44A8"/><path d="M68.0,69.0 L76.0,67.0 L86.0,67.5 L94.0,68.0 L96.5,75.0 L96.0,84.0 L94.5,89.0 L90.0,92.0 L84.0,93.0 L76.0,92.0 L69.0,89.0 L66.0,83.0 L66.0,75.0Z" fill="#1D44A8"/><path d="M64.5,84.0 L70.0,80.5 L77.0,84.0 L76.0,91.0 L69.0,89.0Z" fill="#1D44A8"/><path d="M79.0,97.0 L84.0,94.0 L90.0,91.5 L96.0,90.0 L100.0,89.5 L103.9,92.0 L101.0,95.0 L97.0,99.0 L93.0,102.0 L88.0,104.5 L83.0,105.6 L79.0,103.0 L78.0,100.0Z" fill="#1D44A8"/><path d="M47.5,110.0 L50.0,106.0 L52.0,103.0 L55.0,104.5 L57.0,101.0 L59.5,103.5 L62.0,100.5 L65.0,102.5 L67.0,99.5 L70.5,101.8 L73.0,98.8 L76.0,100.5 L79.0,98.5 L82.0,100.8 L84.5,100.5 L86.5,104.0 L86.0,109.0 L82.0,113.0 L77.0,117.0 L75.0,120.0 L74.5,125.0 L73.0,131.0 L71.0,136.0 L70.0,138.5 L67.8,138.5 L67.3,132.0 L66.5,129.5 L63.0,129.0 L59.0,127.0 L56.0,124.0 L53.5,120.0 L52.0,117.5 L49.5,115.5 L47.5,113.0Z" fill="#1D44A8"/><path d="M74.0,100.0 L80.0,99.0 L86.0,103.0 L88.0,106.0 L87.0,110.0 L84.0,113.0 L82.5,115.0 L78.0,118.0 L75.0,117.0 L72.0,110.0 L70.0,104.0Z" fill="#1D44A8"/><path d="M55.5,117.0 L58.0,116.0 L62.0,115.5 L66.6,115.6 L66.6,126.5 L63.5,126.0 L60.0,124.0 L57.3,121.0Z" fill="#fff"/><path d="M63.0,138.0 L66.0,137.0 L70.0,137.5 L72.0,139.0 L71.5,145.0 L72.0,150.0 L71.5,154.2 L68.0,153.0 L64.0,149.0 L62.0,144.0 L61.5,140.0Z" fill="#1D44A8"/><path d="M106.0,46.0 L108.5,44.0 L112.0,46.5 L115.0,50.0 L118.0,54.0 L121.5,56.0 L122.5,58.5 L120.0,60.5 L116.0,59.0 L113.0,61.0 L110.5,58.0 L109.0,53.0 L107.0,50.0Z" fill="#1D44A8"/></g></g><g transform="translate(94.70,231.00) scale(0.255) translate(-18.8,-20)"><path d="M111.0,38.2 L118.8,38.4 L118.8,39.6 L111.0,39.6Z" fill="#1D44A8"/><path d="M19.3,91.0 L21.0,89.0 L24.0,88.8 L27.0,89.5 L30.0,91.0 L35.0,92.5 L39.4,93.5 L38.0,96.7 L32.0,96.5 L27.0,95.5 L22.0,95.0 L19.3,93.5Z" fill="#1D44A8"/><path d="M34.5,108.5 L40.0,104.2 L45.5,101.0 L46.5,102.8 L41.0,106.5 L35.5,110.0Z" fill="#1D44A8"/><path d="M157.4,92.6 L165.0,92.8 L176.0,92.8 L176.0,94.6 L165.0,94.8 L157.4,94.4Z" fill="#4F86D0"/><path d="M172.6,83.7 L175.0,83.7 L175.6,89.0 L173.0,89.0Z" fill="#4F86D0"/></g><text x="105.80" y="228.40" font-size="7.4" text-anchor="middle" fill="#222" stroke="#222" stroke-width="0.06" ><tspan font-style="italic">CD8A</tspan></text><g filter="url(#spkD)"><g transform="translate(9.50,274.70) scale(0.255) translate(-18.8,-20)"><path d="M25.9,34.5 L31.7,29.6 L39.5,24.8 L49.3,21.8 L59.0,20.0 L72.5,20.3 L85.0,24.4 L97.5,28.1 L106.3,32.5 L110.0,36.3 L108.8,42.5 L105.0,48.8 L101.3,52.5 L96.3,56.3 L93.0,58.5 L91.0,62.0 L91.5,66.0 L95.1,69.0 L96.5,76.3 L95.8,83.6 L94.4,88.0 L90.0,95.0 L86.0,104.0 L70.0,106.0 L50.4,106.5 L47.9,101.6 L41.8,96.7 L38.2,91.8 L32.0,87.0 L27.2,83.3 L23.5,80.9 L26.0,77.2 L27.2,71.1 L28.4,65.0 L29.0,61.0 L27.8,58.0 L25.0,52.0 L24.6,46.5 L24.9,40.0Z" fill="#F06030"/><path d="M46.0,62.4 L52.0,60.5 L64.8,63.1 L78.9,60.3 L90.2,61.7 L95.5,68.6 L95.5,80.1 L98.1,92.9 L87.8,105.6 L82.6,117.1 L79.0,115.8 L68.0,99.2 L56.0,79.7 L47.5,68.6Z" fill="#E0A088"/><path d="M24.9,40.0 L25.9,34.5 L31.7,29.6 L39.5,24.8 L49.3,21.8 L59.0,20.0 L72.5,20.3 L80.0,22.0 L86.0,23.5 L83.0,28.0 L80.0,34.0 L77.0,38.0 L72.0,39.0 L66.1,39.6 L61.5,42.0 L56.9,46.0 L50.0,50.0 L43.0,54.6 L37.3,58.0 L30.0,61.5 L29.0,61.0 L27.8,58.0 L25.0,52.0 L24.6,46.5Z" fill="#8CC0E6"/><path d="M86.0,23.5 L88.4,23.8 L97.5,28.1 L106.3,32.5 L110.0,36.3 L108.8,42.5 L105.0,48.8 L101.3,52.5 L96.3,56.3 L93.0,57.5 L90.0,54.0 L85.0,49.0 L80.0,43.5 L76.5,40.0 L77.0,38.0 L80.0,34.0 L83.0,28.0Z" fill="#70A8DC"/><path d="M84.0,45.0 L87.0,41.0 L92.0,41.5 L95.0,44.0 L93.0,48.0 L88.0,48.5Z" fill="#F06030"/><path d="M68.0,69.0 L76.0,67.0 L86.0,67.5 L94.0,68.0 L96.5,75.0 L96.0,84.0 L94.5,89.0 L90.0,92.0 L84.0,93.0 L76.0,92.0 L69.0,89.0 L66.0,83.0 L66.0,75.0Z" fill="#A8B0D8"/><path d="M64.5,84.0 L70.0,80.5 L77.0,84.0 L76.0,91.0 L69.0,89.0Z" fill="#F06030"/><path d="M79.0,97.0 L84.0,94.0 L90.0,91.5 L96.0,90.0 L100.0,89.5 L103.9,92.0 L101.0,95.0 L97.0,99.0 L93.0,102.0 L88.0,104.5 L83.0,105.6 L79.0,103.0 L78.0,100.0Z" fill="#A0A8D8"/><path d="M47.5,110.0 L50.0,106.0 L52.0,103.0 L55.0,104.5 L57.0,101.0 L59.5,103.5 L62.0,100.5 L65.0,102.5 L67.0,99.5 L70.5,101.8 L73.0,98.8 L76.0,100.5 L79.0,98.5 L82.0,100.8 L84.5,100.5 L86.5,104.0 L86.0,109.0 L82.0,113.0 L77.0,117.0 L75.0,120.0 L74.5,125.0 L73.0,131.0 L71.0,136.0 L70.0,138.5 L67.8,138.5 L67.3,132.0 L66.5,129.5 L63.0,129.0 L59.0,127.0 L56.0,124.0 L53.5,120.0 L52.0,117.5 L49.5,115.5 L47.5,113.0Z" fill="#F05828"/><path d="M74.0,100.0 L80.0,99.0 L86.0,103.0 L88.0,106.0 L87.0,110.0 L84.0,113.0 L82.5,115.0 L78.0,118.0 L75.0,117.0 L72.0,110.0 L70.0,104.0Z" fill="#F05828"/><path d="M55.5,117.0 L58.0,116.0 L62.0,115.5 L66.6,115.6 L66.6,126.5 L63.5,126.0 L60.0,124.0 L57.3,121.0Z" fill="#fff"/><path d="M63.0,138.0 L66.0,137.0 L70.0,137.5 L72.0,139.0 L71.5,145.0 L72.0,150.0 L71.5,154.2 L68.0,153.0 L64.0,149.0 L62.0,144.0 L61.5,140.0Z" fill="#EE5024"/><path d="M106.0,46.0 L108.5,44.0 L112.0,46.5 L115.0,50.0 L118.0,54.0 L121.5,56.0 L122.5,58.5 L120.0,60.5 L116.0,59.0 L113.0,61.0 L110.5,58.0 L109.0,53.0 L107.0,50.0Z" fill="#4F86D0"/></g></g><g transform="translate(9.50,274.70) scale(0.255) translate(-18.8,-20)"><path d="M111.0,38.2 L118.8,38.4 L118.8,39.6 L111.0,39.6Z" fill="#70A8DC"/><path d="M19.3,91.0 L21.0,89.0 L24.0,88.8 L27.0,89.5 L30.0,91.0 L35.0,92.5 L39.4,93.5 L38.0,96.7 L32.0,96.5 L27.0,95.5 L22.0,95.0 L19.3,93.5Z" fill="#F08A3A"/><path d="M34.5,108.5 L40.0,104.2 L45.5,101.0 L46.5,102.8 L41.0,106.5 L35.5,110.0Z" fill="#F08A3A"/><path d="M157.4,92.6 L165.0,92.8 L176.0,92.8 L176.0,94.6 L165.0,94.8 L157.4,94.4Z" fill="#8CC0E6"/><path d="M172.6,83.7 L175.0,83.7 L175.6,89.0 L173.0,89.0Z" fill="#8CC0E6"/></g><text x="18.90" y="272.20" font-size="7.4" text-anchor="middle" fill="#222" stroke="#222" stroke-width="0.06" ><tspan font-style="italic">CD5</tspan></text><g filter="url(#spkD)"><g transform="translate(52.10,274.70) scale(0.255) translate(-18.8,-20)"><path d="M25.9,34.5 L31.7,29.6 L39.5,24.8 L49.3,21.8 L59.0,20.0 L72.5,20.3 L85.0,24.4 L97.5,28.1 L106.3,32.5 L110.0,36.3 L108.8,42.5 L105.0,48.8 L101.3,52.5 L96.3,56.3 L93.0,58.5 L91.0,62.0 L91.5,66.0 L95.1,69.0 L96.5,76.3 L95.8,83.6 L94.4,88.0 L90.0,95.0 L86.0,104.0 L70.0,106.0 L50.4,106.5 L47.9,101.6 L41.8,96.7 L38.2,91.8 L32.0,87.0 L27.2,83.3 L23.5,80.9 L26.0,77.2 L27.2,71.1 L28.4,65.0 L29.0,61.0 L27.8,58.0 L25.0,52.0 L24.6,46.5 L24.9,40.0Z" fill="#EE5024"/><path d="M46.0,62.4 L52.0,60.5 L64.8,63.1 L78.9,60.3 L90.2,61.7 L95.5,68.6 L95.5,80.1 L98.1,92.9 L87.8,105.6 L82.6,117.1 L79.0,115.8 L68.0,99.2 L56.0,79.7 L47.5,68.6Z" fill="#F07040"/><path d="M24.9,40.0 L25.9,34.5 L31.7,29.6 L39.5,24.8 L49.3,21.8 L59.0,20.0 L72.5,20.3 L80.0,22.0 L86.0,23.5 L83.0,28.0 L80.0,34.0 L77.0,38.0 L72.0,39.0 L66.1,39.6 L61.5,42.0 L56.9,46.0 L50.0,50.0 L43.0,54.6 L37.3,58.0 L30.0,61.5 L29.0,61.0 L27.8,58.0 L25.0,52.0 L24.6,46.5Z" fill="#F06030"/><path d="M86.0,23.5 L88.4,23.8 L97.5,28.1 L106.3,32.5 L110.0,36.3 L108.8,42.5 L105.0,48.8 L101.3,52.5 L96.3,56.3 L93.0,57.5 L90.0,54.0 L85.0,49.0 L80.0,43.5 L76.5,40.0 L77.0,38.0 L80.0,34.0 L83.0,28.0Z" fill="#A0B8D8"/><path d="M84.0,45.0 L87.0,41.0 L92.0,41.5 L95.0,44.0 L93.0,48.0 L88.0,48.5Z" fill="#EE5024"/><path d="M68.0,69.0 L76.0,67.0 L86.0,67.5 L94.0,68.0 L96.5,75.0 L96.0,84.0 L94.5,89.0 L90.0,92.0 L84.0,93.0 L76.0,92.0 L69.0,89.0 L66.0,83.0 L66.0,75.0Z" fill="#E8B080"/><path d="M64.5,84.0 L70.0,80.5 L77.0,84.0 L76.0,91.0 L69.0,89.0Z" fill="#EE5024"/><path d="M79.0,97.0 L84.0,94.0 L90.0,91.5 L96.0,90.0 L100.0,89.5 L103.9,92.0 L101.0,95.0 L97.0,99.0 L93.0,102.0 L88.0,104.5 L83.0,105.6 L79.0,103.0 L78.0,100.0Z" fill="#E0A080"/><path d="M47.5,110.0 L50.0,106.0 L52.0,103.0 L55.0,104.5 L57.0,101.0 L59.5,103.5 L62.0,100.5 L65.0,102.5 L67.0,99.5 L70.5,101.8 L73.0,98.8 L76.0,100.5 L79.0,98.5 L82.0,100.8 L84.5,100.5 L86.5,104.0 L86.0,109.0 L82.0,113.0 L77.0,117.0 L75.0,120.0 L74.5,125.0 L73.0,131.0 L71.0,136.0 L70.0,138.5 L67.8,138.5 L67.3,132.0 L66.5,129.5 L63.0,129.0 L59.0,127.0 L56.0,124.0 L53.5,120.0 L52.0,117.5 L49.5,115.5 L47.5,113.0Z" fill="#E8A870"/><path d="M74.0,100.0 L80.0,99.0 L86.0,103.0 L88.0,106.0 L87.0,110.0 L84.0,113.0 L82.5,115.0 L78.0,118.0 L75.0,117.0 L72.0,110.0 L70.0,104.0Z" fill="#E8A870"/><path d="M55.5,117.0 L58.0,116.0 L62.0,115.5 L66.6,115.6 L66.6,126.5 L63.5,126.0 L60.0,124.0 L57.3,121.0Z" fill="#fff"/><path d="M63.0,138.0 L66.0,137.0 L70.0,137.5 L72.0,139.0 L71.5,145.0 L72.0,150.0 L71.5,154.2 L68.0,153.0 L64.0,149.0 L62.0,144.0 L61.5,140.0Z" fill="#F08A3A"/><path d="M106.0,46.0 L108.5,44.0 L112.0,46.5 L115.0,50.0 L118.0,54.0 L121.5,56.0 L122.5,58.5 L120.0,60.5 L116.0,59.0 L113.0,61.0 L110.5,58.0 L109.0,53.0 L107.0,50.0Z" fill="#8CC0E6"/></g></g><g transform="translate(52.10,274.70) scale(0.255) translate(-18.8,-20)"><path d="M111.0,38.2 L118.8,38.4 L118.8,39.6 L111.0,39.6Z" fill="#A0B8D8"/><path d="M19.3,91.0 L21.0,89.0 L24.0,88.8 L27.0,89.5 L30.0,91.0 L35.0,92.5 L39.4,93.5 L38.0,96.7 L32.0,96.5 L27.0,95.5 L22.0,95.0 L19.3,93.5Z" fill="#F08A3A"/><path d="M34.5,108.5 L40.0,104.2 L45.5,101.0 L46.5,102.8 L41.0,106.5 L35.5,110.0Z" fill="#F08A3A"/><path d="M157.4,92.6 L165.0,92.8 L176.0,92.8 L176.0,94.6 L165.0,94.8 L157.4,94.4Z" fill="#8CC0E6"/><path d="M172.6,83.7 L175.0,83.7 L175.6,89.0 L173.0,89.0Z" fill="#8CC0E6"/></g><text x="60.40" y="272.20" font-size="7.4" text-anchor="middle" fill="#222" stroke="#222" stroke-width="0.06" ><tspan font-style="italic">CD7</tspan></text><g filter="url(#spkD)"><g transform="translate(94.70,274.70) scale(0.255) translate(-18.8,-20)"><path d="M25.9,34.5 L31.7,29.6 L39.5,24.8 L49.3,21.8 L59.0,20.0 L72.5,20.3 L85.0,24.4 L97.5,28.1 L106.3,32.5 L110.0,36.3 L108.8,42.5 L105.0,48.8 L101.3,52.5 L96.3,56.3 L93.0,58.5 L91.0,62.0 L91.5,66.0 L95.1,69.0 L96.5,76.3 L95.8,83.6 L94.4,88.0 L90.0,95.0 L86.0,104.0 L70.0,106.0 L50.4,106.5 L47.9,101.6 L41.8,96.7 L38.2,91.8 L32.0,87.0 L27.2,83.3 L23.5,80.9 L26.0,77.2 L27.2,71.1 L28.4,65.0 L29.0,61.0 L27.8,58.0 L25.0,52.0 L24.6,46.5 L24.9,40.0Z" fill="#2A50B0"/><path d="M46.0,62.4 L52.0,60.5 L64.8,63.1 L78.9,60.3 L90.2,61.7 L95.5,68.6 L95.5,80.1 L98.1,92.9 L87.8,105.6 L82.6,117.1 L79.0,115.8 L68.0,99.2 L56.0,79.7 L47.5,68.6Z" fill="#D8C8A0"/><path d="M24.9,40.0 L25.9,34.5 L31.7,29.6 L39.5,24.8 L49.3,21.8 L59.0,20.0 L72.5,20.3 L80.0,22.0 L86.0,23.5 L83.0,28.0 L80.0,34.0 L77.0,38.0 L72.0,39.0 L66.1,39.6 L61.5,42.0 L56.9,46.0 L50.0,50.0 L43.0,54.6 L37.3,58.0 L30.0,61.5 L29.0,61.0 L27.8,58.0 L25.0,52.0 L24.6,46.5Z" fill="#4A88D8"/><path d="M86.0,23.5 L88.4,23.8 L97.5,28.1 L106.3,32.5 L110.0,36.3 L108.8,42.5 L105.0,48.8 L101.3,52.5 L96.3,56.3 L93.0,57.5 L90.0,54.0 L85.0,49.0 L80.0,43.5 L76.5,40.0 L77.0,38.0 L80.0,34.0 L83.0,28.0Z" fill="#8CC0E6"/><path d="M84.0,45.0 L87.0,41.0 L92.0,41.5 L95.0,44.0 L93.0,48.0 L88.0,48.5Z" fill="#2A50B0"/><path d="M68.0,69.0 L76.0,67.0 L86.0,67.5 L94.0,68.0 L96.5,75.0 L96.0,84.0 L94.5,89.0 L90.0,92.0 L84.0,93.0 L76.0,92.0 L69.0,89.0 L66.0,83.0 L66.0,75.0Z" fill="#C8C0A8"/><path d="M64.5,84.0 L70.0,80.5 L77.0,84.0 L76.0,91.0 L69.0,89.0Z" fill="#2A50B0"/><path d="M79.0,97.0 L84.0,94.0 L90.0,91.5 L96.0,90.0 L100.0,89.5 L103.9,92.0 L101.0,95.0 L97.0,99.0 L93.0,102.0 L88.0,104.5 L83.0,105.6 L79.0,103.0 L78.0,100.0Z" fill="#90A8C8"/><path d="M47.5,110.0 L50.0,106.0 L52.0,103.0 L55.0,104.5 L57.0,101.0 L59.5,103.5 L62.0,100.5 L65.0,102.5 L67.0,99.5 L70.5,101.8 L73.0,98.8 L76.0,100.5 L79.0,98.5 L82.0,100.8 L84.5,100.5 L86.5,104.0 L86.0,109.0 L82.0,113.0 L77.0,117.0 L75.0,120.0 L74.5,125.0 L73.0,131.0 L71.0,136.0 L70.0,138.5 L67.8,138.5 L67.3,132.0 L66.5,129.5 L63.0,129.0 L59.0,127.0 L56.0,124.0 L53.5,120.0 L52.0,117.5 L49.5,115.5 L47.5,113.0Z" fill="#E0C898"/><path d="M74.0,100.0 L80.0,99.0 L86.0,103.0 L88.0,106.0 L87.0,110.0 L84.0,113.0 L82.5,115.0 L78.0,118.0 L75.0,117.0 L72.0,110.0 L70.0,104.0Z" fill="#E0C898"/><path d="M55.5,117.0 L58.0,116.0 L62.0,115.5 L66.6,115.6 L66.6,126.5 L63.5,126.0 L60.0,124.0 L57.3,121.0Z" fill="#fff"/><path d="M63.0,138.0 L66.0,137.0 L70.0,137.5 L72.0,139.0 L71.5,145.0 L72.0,150.0 L71.5,154.2 L68.0,153.0 L64.0,149.0 L62.0,144.0 L61.5,140.0Z" fill="#F3C060"/><path d="M106.0,46.0 L108.5,44.0 L112.0,46.5 L115.0,50.0 L118.0,54.0 L121.5,56.0 L122.5,58.5 L120.0,60.5 L116.0,59.0 L113.0,61.0 L110.5,58.0 L109.0,53.0 L107.0,50.0Z" fill="#4F86D0"/></g></g><g transform="translate(94.70,274.70) scale(0.255) translate(-18.8,-20)"><path d="M111.0,38.2 L118.8,38.4 L118.8,39.6 L111.0,39.6Z" fill="#8CC0E6"/><path d="M19.3,91.0 L21.0,89.0 L24.0,88.8 L27.0,89.5 L30.0,91.0 L35.0,92.5 L39.4,93.5 L38.0,96.7 L32.0,96.5 L27.0,95.5 L22.0,95.0 L19.3,93.5Z" fill="#1D44A8"/><path d="M34.5,108.5 L40.0,104.2 L45.5,101.0 L46.5,102.8 L41.0,106.5 L35.5,110.0Z" fill="#1D44A8"/><path d="M157.4,92.6 L165.0,92.8 L176.0,92.8 L176.0,94.6 L165.0,94.8 L157.4,94.4Z" fill="#4F86D0"/><path d="M172.6,83.7 L175.0,83.7 L175.6,89.0 L173.0,89.0Z" fill="#4F86D0"/></g><text x="102.40" y="272.20" font-size="7.4" text-anchor="middle" fill="#222" stroke="#222" stroke-width="0.06" textLength="51.20" lengthAdjust="spacingAndGlyphs" >CD49d (<tspan font-style="italic">ITGA4</tspan>)</text><g filter="url(#spkD)"><g transform="translate(9.50,318.40) scale(0.255) translate(-18.8,-20)"><path d="M25.9,34.5 L31.7,29.6 L39.5,24.8 L49.3,21.8 L59.0,20.0 L72.5,20.3 L85.0,24.4 L97.5,28.1 L106.3,32.5 L110.0,36.3 L108.8,42.5 L105.0,48.8 L101.3,52.5 L96.3,56.3 L93.0,58.5 L91.0,62.0 L91.5,66.0 L95.1,69.0 L96.5,76.3 L95.8,83.6 L94.4,88.0 L90.0,95.0 L86.0,104.0 L70.0,106.0 L50.4,106.5 L47.9,101.6 L41.8,96.7 L38.2,91.8 L32.0,87.0 L27.2,83.3 L23.5,80.9 L26.0,77.2 L27.2,71.1 L28.4,65.0 L29.0,61.0 L27.8,58.0 L25.0,52.0 L24.6,46.5 L24.9,40.0Z" fill="#E8B070"/><path d="M46.0,62.4 L52.0,60.5 L64.8,63.1 L78.9,60.3 L90.2,61.7 L95.5,68.6 L95.5,80.1 L98.1,92.9 L87.8,105.6 L82.6,117.1 L79.0,115.8 L68.0,99.2 L56.0,79.7 L47.5,68.6Z" fill="#A8D0C8"/><path d="M24.9,40.0 L25.9,34.5 L31.7,29.6 L39.5,24.8 L49.3,21.8 L59.0,20.0 L72.5,20.3 L80.0,22.0 L86.0,23.5 L83.0,28.0 L80.0,34.0 L77.0,38.0 L72.0,39.0 L66.1,39.6 L61.5,42.0 L56.9,46.0 L50.0,50.0 L43.0,54.6 L37.3,58.0 L30.0,61.5 L29.0,61.0 L27.8,58.0 L25.0,52.0 L24.6,46.5Z" fill="#3060B8"/><path d="M86.0,23.5 L88.4,23.8 L97.5,28.1 L106.3,32.5 L110.0,36.3 L108.8,42.5 L105.0,48.8 L101.3,52.5 L96.3,56.3 L93.0,57.5 L90.0,54.0 L85.0,49.0 L80.0,43.5 L76.5,40.0 L77.0,38.0 L80.0,34.0 L83.0,28.0Z" fill="#3060B8"/><path d="M84.0,45.0 L87.0,41.0 L92.0,41.5 L95.0,44.0 L93.0,48.0 L88.0,48.5Z" fill="#E8B070"/><path d="M68.0,69.0 L76.0,67.0 L86.0,67.5 L94.0,68.0 L96.5,75.0 L96.0,84.0 L94.5,89.0 L90.0,92.0 L84.0,93.0 L76.0,92.0 L69.0,89.0 L66.0,83.0 L66.0,75.0Z" fill="#4A78C0"/><path d="M64.5,84.0 L70.0,80.5 L77.0,84.0 L76.0,91.0 L69.0,89.0Z" fill="#E8B070"/><path d="M79.0,97.0 L84.0,94.0 L90.0,91.5 L96.0,90.0 L100.0,89.5 L103.9,92.0 L101.0,95.0 L97.0,99.0 L93.0,102.0 L88.0,104.5 L83.0,105.6 L79.0,103.0 L78.0,100.0Z" fill="#4F86D0"/><path d="M47.5,110.0 L50.0,106.0 L52.0,103.0 L55.0,104.5 L57.0,101.0 L59.5,103.5 L62.0,100.5 L65.0,102.5 L67.0,99.5 L70.5,101.8 L73.0,98.8 L76.0,100.5 L79.0,98.5 L82.0,100.8 L84.5,100.5 L86.5,104.0 L86.0,109.0 L82.0,113.0 L77.0,117.0 L75.0,120.0 L74.5,125.0 L73.0,131.0 L71.0,136.0 L70.0,138.5 L67.8,138.5 L67.3,132.0 L66.5,129.5 L63.0,129.0 L59.0,127.0 L56.0,124.0 L53.5,120.0 L52.0,117.5 L49.5,115.5 L47.5,113.0Z" fill="#F08A3A"/><path d="M74.0,100.0 L80.0,99.0 L86.0,103.0 L88.0,106.0 L87.0,110.0 L84.0,113.0 L82.5,115.0 L78.0,118.0 L75.0,117.0 L72.0,110.0 L70.0,104.0Z" fill="#F08A3A"/><path d="M55.5,117.0 L58.0,116.0 L62.0,115.5 L66.6,115.6 L66.6,126.5 L63.5,126.0 L60.0,124.0 L57.3,121.0Z" fill="#fff"/><path d="M63.0,138.0 L66.0,137.0 L70.0,137.5 L72.0,139.0 L71.5,145.0 L72.0,150.0 L71.5,154.2 L68.0,153.0 L64.0,149.0 L62.0,144.0 L61.5,140.0Z" fill="#F08A3A"/><path d="M106.0,46.0 L108.5,44.0 L112.0,46.5 L115.0,50.0 L118.0,54.0 L121.5,56.0 L122.5,58.5 L120.0,60.5 L116.0,59.0 L113.0,61.0 L110.5,58.0 L109.0,53.0 L107.0,50.0Z" fill="#1D44A8"/></g></g><g transform="translate(9.50,318.40) scale(0.255) translate(-18.8,-20)"><path d="M111.0,38.2 L118.8,38.4 L118.8,39.6 L111.0,39.6Z" fill="#3060B8"/><path d="M19.3,91.0 L21.0,89.0 L24.0,88.8 L27.0,89.5 L30.0,91.0 L35.0,92.5 L39.4,93.5 L38.0,96.7 L32.0,96.5 L27.0,95.5 L22.0,95.0 L19.3,93.5Z" fill="#4F86D0"/><path d="M34.5,108.5 L40.0,104.2 L45.5,101.0 L46.5,102.8 L41.0,106.5 L35.5,110.0Z" fill="#4F86D0"/><path d="M157.4,92.6 L165.0,92.8 L176.0,92.8 L176.0,94.6 L165.0,94.8 L157.4,94.4Z" fill="#4F86D0"/><path d="M172.6,83.7 L175.0,83.7 L175.6,89.0 L173.0,89.0Z" fill="#4F86D0"/></g><text x="17.40" y="315.30" font-size="7.4" text-anchor="middle" fill="#222" stroke="#222" stroke-width="0.06" ><tspan font-style="italic">CCR4</tspan></text><g filter="url(#spkD)"><g transform="translate(52.10,318.40) scale(0.255) translate(-18.8,-20)"><path d="M25.9,34.5 L31.7,29.6 L39.5,24.8 L49.3,21.8 L59.0,20.0 L72.5,20.3 L85.0,24.4 L97.5,28.1 L106.3,32.5 L110.0,36.3 L108.8,42.5 L105.0,48.8 L101.3,52.5 L96.3,56.3 L93.0,58.5 L91.0,62.0 L91.5,66.0 L95.1,69.0 L96.5,76.3 L95.8,83.6 L94.4,88.0 L90.0,95.0 L86.0,104.0 L70.0,106.0 L50.4,106.5 L47.9,101.6 L41.8,96.7 L38.2,91.8 L32.0,87.0 L27.2,83.3 L23.5,80.9 L26.0,77.2 L27.2,71.1 L28.4,65.0 L29.0,61.0 L27.8,58.0 L25.0,52.0 L24.6,46.5 L24.9,40.0Z" fill="#1D44A8"/><path d="M46.0,62.4 L52.0,60.5 L64.8,63.1 L78.9,60.3 L90.2,61.7 L95.5,68.6 L95.5,80.1 L98.1,92.9 L87.8,105.6 L82.6,117.1 L79.0,115.8 L68.0,99.2 L56.0,79.7 L47.5,68.6Z" fill="#1D44A8"/><path d="M24.9,40.0 L25.9,34.5 L31.7,29.6 L39.5,24.8 L49.3,21.8 L59.0,20.0 L72.5,20.3 L80.0,22.0 L86.0,23.5 L83.0,28.0 L80.0,34.0 L77.0,38.0 L72.0,39.0 L66.1,39.6 L61.5,42.0 L56.9,46.0 L50.0,50.0 L43.0,54.6 L37.3,58.0 L30.0,61.5 L29.0,61.0 L27.8,58.0 L25.0,52.0 L24.6,46.5Z" fill="#1D44A8"/><path d="M86.0,23.5 L88.4,23.8 L97.5,28.1 L106.3,32.5 L110.0,36.3 L108.8,42.5 L105.0,48.8 L101.3,52.5 L96.3,56.3 L93.0,57.5 L90.0,54.0 L85.0,49.0 L80.0,43.5 L76.5,40.0 L77.0,38.0 L80.0,34.0 L83.0,28.0Z" fill="#1D44A8"/><path d="M84.0,45.0 L87.0,41.0 L92.0,41.5 L95.0,44.0 L93.0,48.0 L88.0,48.5Z" fill="#1D44A8"/><path d="M68.0,69.0 L76.0,67.0 L86.0,67.5 L94.0,68.0 L96.5,75.0 L96.0,84.0 L94.5,89.0 L90.0,92.0 L84.0,93.0 L76.0,92.0 L69.0,89.0 L66.0,83.0 L66.0,75.0Z" fill="#1D44A8"/><path d="M64.5,84.0 L70.0,80.5 L77.0,84.0 L76.0,91.0 L69.0,89.0Z" fill="#1D44A8"/><path d="M79.0,97.0 L84.0,94.0 L90.0,91.5 L96.0,90.0 L100.0,89.5 L103.9,92.0 L101.0,95.0 L97.0,99.0 L93.0,102.0 L88.0,104.5 L83.0,105.6 L79.0,103.0 L78.0,100.0Z" fill="#1D44A8"/><path d="M47.5,110.0 L50.0,106.0 L52.0,103.0 L55.0,104.5 L57.0,101.0 L59.5,103.5 L62.0,100.5 L65.0,102.5 L67.0,99.5 L70.5,101.8 L73.0,98.8 L76.0,100.5 L79.0,98.5 L82.0,100.8 L84.5,100.5 L86.5,104.0 L86.0,109.0 L82.0,113.0 L77.0,117.0 L75.0,120.0 L74.5,125.0 L73.0,131.0 L71.0,136.0 L70.0,138.5 L67.8,138.5 L67.3,132.0 L66.5,129.5 L63.0,129.0 L59.0,127.0 L56.0,124.0 L53.5,120.0 L52.0,117.5 L49.5,115.5 L47.5,113.0Z" fill="#1D44A8"/><path d="M74.0,100.0 L80.0,99.0 L86.0,103.0 L88.0,106.0 L87.0,110.0 L84.0,113.0 L82.5,115.0 L78.0,118.0 L75.0,117.0 L72.0,110.0 L70.0,104.0Z" fill="#1D44A8"/><path d="M55.5,117.0 L58.0,116.0 L62.0,115.5 L66.6,115.6 L66.6,126.5 L63.5,126.0 L60.0,124.0 L57.3,121.0Z" fill="#fff"/><path d="M63.0,138.0 L66.0,137.0 L70.0,137.5 L72.0,139.0 L71.5,145.0 L72.0,150.0 L71.5,154.2 L68.0,153.0 L64.0,149.0 L62.0,144.0 L61.5,140.0Z" fill="#1D44A8"/><path d="M106.0,46.0 L108.5,44.0 L112.0,46.5 L115.0,50.0 L118.0,54.0 L121.5,56.0 L122.5,58.5 L120.0,60.5 L116.0,59.0 L113.0,61.0 L110.5,58.0 L109.0,53.0 L107.0,50.0Z" fill="#1D44A8"/></g></g><g transform="translate(52.10,318.40) scale(0.255) translate(-18.8,-20)"><path d="M111.0,38.2 L118.8,38.4 L118.8,39.6 L111.0,39.6Z" fill="#1D44A8"/><path d="M19.3,91.0 L21.0,89.0 L24.0,88.8 L27.0,89.5 L30.0,91.0 L35.0,92.5 L39.4,93.5 L38.0,96.7 L32.0,96.5 L27.0,95.5 L22.0,95.0 L19.3,93.5Z" fill="#1D44A8"/><path d="M34.5,108.5 L40.0,104.2 L45.5,101.0 L46.5,102.8 L41.0,106.5 L35.5,110.0Z" fill="#1D44A8"/><path d="M157.4,92.6 L165.0,92.8 L176.0,92.8 L176.0,94.6 L165.0,94.8 L157.4,94.4Z" fill="#4F86D0"/><path d="M172.6,83.7 L175.0,83.7 L175.6,89.0 L173.0,89.0Z" fill="#4F86D0"/></g><text x="63.40" y="315.30" font-size="7.4" text-anchor="middle" fill="#222" stroke="#222" stroke-width="0.06" textLength="28.70" lengthAdjust="spacingAndGlyphs" ><tspan font-style="italic">CXCL13</tspan></text><g filter="url(#spkD)"><g transform="translate(94.70,318.40) scale(0.255) translate(-18.8,-20)"><path d="M25.9,34.5 L31.7,29.6 L39.5,24.8 L49.3,21.8 L59.0,20.0 L72.5,20.3 L85.0,24.4 L97.5,28.1 L106.3,32.5 L110.0,36.3 L108.8,42.5 L105.0,48.8 L101.3,52.5 L96.3,56.3 L93.0,58.5 L91.0,62.0 L91.5,66.0 L95.1,69.0 L96.5,76.3 L95.8,83.6 L94.4,88.0 L90.0,95.0 L86.0,104.0 L70.0,106.0 L50.4,106.5 L47.9,101.6 L41.8,96.7 L38.2,91.8 L32.0,87.0 L27.2,83.3 L23.5,80.9 L26.0,77.2 L27.2,71.1 L28.4,65.0 L29.0,61.0 L27.8,58.0 L25.0,52.0 L24.6,46.5 L24.9,40.0Z" fill="#3864BC"/><path d="M46.0,62.4 L52.0,60.5 L64.8,63.1 L78.9,60.3 L90.2,61.7 L95.5,68.6 L95.5,80.1 L98.1,92.9 L87.8,105.6 L82.6,117.1 L79.0,115.8 L68.0,99.2 L56.0,79.7 L47.5,68.6Z" fill="#3864BC"/><path d="M24.9,40.0 L25.9,34.5 L31.7,29.6 L39.5,24.8 L49.3,21.8 L59.0,20.0 L72.5,20.3 L80.0,22.0 L86.0,23.5 L83.0,28.0 L80.0,34.0 L77.0,38.0 L72.0,39.0 L66.1,39.6 L61.5,42.0 L56.9,46.0 L50.0,50.0 L43.0,54.6 L37.3,58.0 L30.0,61.5 L29.0,61.0 L27.8,58.0 L25.0,52.0 L24.6,46.5Z" fill="#4070C4"/><path d="M86.0,23.5 L88.4,23.8 L97.5,28.1 L106.3,32.5 L110.0,36.3 L108.8,42.5 L105.0,48.8 L101.3,52.5 L96.3,56.3 L93.0,57.5 L90.0,54.0 L85.0,49.0 L80.0,43.5 L76.5,40.0 L77.0,38.0 L80.0,34.0 L83.0,28.0Z" fill="#1D44A8"/><path d="M84.0,45.0 L87.0,41.0 L92.0,41.5 L95.0,44.0 L93.0,48.0 L88.0,48.5Z" fill="#3864BC"/><path d="M68.0,69.0 L76.0,67.0 L86.0,67.5 L94.0,68.0 L96.5,75.0 L96.0,84.0 L94.5,89.0 L90.0,92.0 L84.0,93.0 L76.0,92.0 L69.0,89.0 L66.0,83.0 L66.0,75.0Z" fill="#4F86D0"/><path d="M64.5,84.0 L70.0,80.5 L77.0,84.0 L76.0,91.0 L69.0,89.0Z" fill="#3864BC"/><path d="M79.0,97.0 L84.0,94.0 L90.0,91.5 L96.0,90.0 L100.0,89.5 L103.9,92.0 L101.0,95.0 L97.0,99.0 L93.0,102.0 L88.0,104.5 L83.0,105.6 L79.0,103.0 L78.0,100.0Z" fill="#1D44A8"/><path d="M47.5,110.0 L50.0,106.0 L52.0,103.0 L55.0,104.5 L57.0,101.0 L59.5,103.5 L62.0,100.5 L65.0,102.5 L67.0,99.5 L70.5,101.8 L73.0,98.8 L76.0,100.5 L79.0,98.5 L82.0,100.8 L84.5,100.5 L86.5,104.0 L86.0,109.0 L82.0,113.0 L77.0,117.0 L75.0,120.0 L74.5,125.0 L73.0,131.0 L71.0,136.0 L70.0,138.5 L67.8,138.5 L67.3,132.0 L66.5,129.5 L63.0,129.0 L59.0,127.0 L56.0,124.0 L53.5,120.0 L52.0,117.5 L49.5,115.5 L47.5,113.0Z" fill="#E8A060"/><path d="M74.0,100.0 L80.0,99.0 L86.0,103.0 L88.0,106.0 L87.0,110.0 L84.0,113.0 L82.5,115.0 L78.0,118.0 L75.0,117.0 L72.0,110.0 L70.0,104.0Z" fill="#3864BC"/><path d="M55.5,117.0 L58.0,116.0 L62.0,115.5 L66.6,115.6 L66.6,126.5 L63.5,126.0 L60.0,124.0 L57.3,121.0Z" fill="#fff"/><path d="M63.0,138.0 L66.0,137.0 L70.0,137.5 L72.0,139.0 L71.5,145.0 L72.0,150.0 L71.5,154.2 L68.0,153.0 L64.0,149.0 L62.0,144.0 L61.5,140.0Z" fill="#EE5024"/><path d="M106.0,46.0 L108.5,44.0 L112.0,46.5 L115.0,50.0 L118.0,54.0 L121.5,56.0 L122.5,58.5 L120.0,60.5 L116.0,59.0 L113.0,61.0 L110.5,58.0 L109.0,53.0 L107.0,50.0Z" fill="#1D44A8"/></g></g><g transform="translate(94.70,318.40) scale(0.255) translate(-18.8,-20)"><path d="M111.0,38.2 L118.8,38.4 L118.8,39.6 L111.0,39.6Z" fill="#1D44A8"/><path d="M19.3,91.0 L21.0,89.0 L24.0,88.8 L27.0,89.5 L30.0,91.0 L35.0,92.5 L39.4,93.5 L38.0,96.7 L32.0,96.5 L27.0,95.5 L22.0,95.0 L19.3,93.5Z" fill="#1D44A8"/><path d="M34.5,108.5 L40.0,104.2 L45.5,101.0 L46.5,102.8 L41.0,106.5 L35.5,110.0Z" fill="#1D44A8"/><path d="M157.4,92.6 L165.0,92.8 L176.0,92.8 L176.0,94.6 L165.0,94.8 L157.4,94.4Z" fill="#4F86D0"/><path d="M172.6,83.7 L175.0,83.7 L175.6,89.0 L173.0,89.0Z" fill="#4F86D0"/></g><text x="106.60" y="315.30" font-size="7.4" text-anchor="middle" fill="#222" stroke="#222" stroke-width="0.06" ><tspan font-style="italic">FOXP3</tspan></text><g filter="url(#spkD)"><g transform="translate(9.50,362.10) scale(0.255) translate(-18.8,-20)"><path d="M25.9,34.5 L31.7,29.6 L39.5,24.8 L49.3,21.8 L59.0,20.0 L72.5,20.3 L85.0,24.4 L97.5,28.1 L106.3,32.5 L110.0,36.3 L108.8,42.5 L105.0,48.8 L101.3,52.5 L96.3,56.3 L93.0,58.5 L91.0,62.0 L91.5,66.0 L95.1,69.0 L96.5,76.3 L95.8,83.6 L94.4,88.0 L90.0,95.0 L86.0,104.0 L70.0,106.0 L50.4,106.5 L47.9,101.6 L41.8,96.7 L38.2,91.8 L32.0,87.0 L27.2,83.3 L23.5,80.9 L26.0,77.2 L27.2,71.1 L28.4,65.0 L29.0,61.0 L27.8,58.0 L25.0,52.0 L24.6,46.5 L24.9,40.0Z" fill="#1D44A8"/><path d="M46.0,62.4 L52.0,60.5 L64.8,63.1 L78.9,60.3 L90.2,61.7 L95.5,68.6 L95.5,80.1 L98.1,92.9 L87.8,105.6 L82.6,117.1 L79.0,115.8 L68.0,99.2 L56.0,79.7 L47.5,68.6Z" fill="#1D44A8"/><path d="M24.9,40.0 L25.9,34.5 L31.7,29.6 L39.5,24.8 L49.3,21.8 L59.0,20.0 L72.5,20.3 L80.0,22.0 L86.0,23.5 L83.0,28.0 L80.0,34.0 L77.0,38.0 L72.0,39.0 L66.1,39.6 L61.5,42.0 L56.9,46.0 L50.0,50.0 L43.0,54.6 L37.3,58.0 L30.0,61.5 L29.0,61.0 L27.8,58.0 L25.0,52.0 L24.6,46.5Z" fill="#1D44A8"/><path d="M86.0,23.5 L88.4,23.8 L97.5,28.1 L106.3,32.5 L110.0,36.3 L108.8,42.5 L105.0,48.8 L101.3,52.5 L96.3,56.3 L93.0,57.5 L90.0,54.0 L85.0,49.0 L80.0,43.5 L76.5,40.0 L77.0,38.0 L80.0,34.0 L83.0,28.0Z" fill="#1D44A8"/><path d="M84.0,45.0 L87.0,41.0 L92.0,41.5 L95.0,44.0 L93.0,48.0 L88.0,48.5Z" fill="#1D44A8"/><path d="M68.0,69.0 L76.0,67.0 L86.0,67.5 L94.0,68.0 L96.5,75.0 L96.0,84.0 L94.5,89.0 L90.0,92.0 L84.0,93.0 L76.0,92.0 L69.0,89.0 L66.0,83.0 L66.0,75.0Z" fill="#1D44A8"/><path d="M64.5,84.0 L70.0,80.5 L77.0,84.0 L76.0,91.0 L69.0,89.0Z" fill="#1D44A8"/><path d="M79.0,97.0 L84.0,94.0 L90.0,91.5 L96.0,90.0 L100.0,89.5 L103.9,92.0 L101.0,95.0 L97.0,99.0 L93.0,102.0 L88.0,104.5 L83.0,105.6 L79.0,103.0 L78.0,100.0Z" fill="#3060C0"/><path d="M47.5,110.0 L50.0,106.0 L52.0,103.0 L55.0,104.5 L57.0,101.0 L59.5,103.5 L62.0,100.5 L65.0,102.5 L67.0,99.5 L70.5,101.8 L73.0,98.8 L76.0,100.5 L79.0,98.5 L82.0,100.8 L84.5,100.5 L86.5,104.0 L86.0,109.0 L82.0,113.0 L77.0,117.0 L75.0,120.0 L74.5,125.0 L73.0,131.0 L71.0,136.0 L70.0,138.5 L67.8,138.5 L67.3,132.0 L66.5,129.5 L63.0,129.0 L59.0,127.0 L56.0,124.0 L53.5,120.0 L52.0,117.5 L49.5,115.5 L47.5,113.0Z" fill="#1D44A8"/><path d="M74.0,100.0 L80.0,99.0 L86.0,103.0 L88.0,106.0 L87.0,110.0 L84.0,113.0 L82.5,115.0 L78.0,118.0 L75.0,117.0 L72.0,110.0 L70.0,104.0Z" fill="#1D44A8"/><path d="M55.5,117.0 L58.0,116.0 L62.0,115.5 L66.6,115.6 L66.6,126.5 L63.5,126.0 L60.0,124.0 L57.3,121.0Z" fill="#fff"/><path d="M63.0,138.0 L66.0,137.0 L70.0,137.5 L72.0,139.0 L71.5,145.0 L72.0,150.0 L71.5,154.2 L68.0,153.0 L64.0,149.0 L62.0,144.0 L61.5,140.0Z" fill="#1D44A8"/><path d="M106.0,46.0 L108.5,44.0 L112.0,46.5 L115.0,50.0 L118.0,54.0 L121.5,56.0 L122.5,58.5 L120.0,60.5 L116.0,59.0 L113.0,61.0 L110.5,58.0 L109.0,53.0 L107.0,50.0Z" fill="#1D44A8"/></g></g><g transform="translate(9.50,362.10) scale(0.255) translate(-18.8,-20)"><path d="M111.0,38.2 L118.8,38.4 L118.8,39.6 L111.0,39.6Z" fill="#1D44A8"/><path d="M19.3,91.0 L21.0,89.0 L24.0,88.8 L27.0,89.5 L30.0,91.0 L35.0,92.5 L39.4,93.5 L38.0,96.7 L32.0,96.5 L27.0,95.5 L22.0,95.0 L19.3,93.5Z" fill="#1D44A8"/><path d="M34.5,108.5 L40.0,104.2 L45.5,101.0 L46.5,102.8 L41.0,106.5 L35.5,110.0Z" fill="#1D44A8"/><path d="M157.4,92.6 L165.0,92.8 L176.0,92.8 L176.0,94.6 L165.0,94.8 L157.4,94.4Z" fill="#4F86D0"/><path d="M172.6,83.7 L175.0,83.7 L175.6,89.0 L173.0,89.0Z" fill="#4F86D0"/></g><text x="16.10" y="359.50" font-size="7.4" text-anchor="middle" fill="#222" stroke="#222" stroke-width="0.06" ><tspan font-style="italic">GZMB</tspan></text><g filter="url(#spkD)"><g transform="translate(52.10,362.10) scale(0.255) translate(-18.8,-20)"><path d="M25.9,34.5 L31.7,29.6 L39.5,24.8 L49.3,21.8 L59.0,20.0 L72.5,20.3 L85.0,24.4 L97.5,28.1 L106.3,32.5 L110.0,36.3 L108.8,42.5 L105.0,48.8 L101.3,52.5 L96.3,56.3 L93.0,58.5 L91.0,62.0 L91.5,66.0 L95.1,69.0 L96.5,76.3 L95.8,83.6 L94.4,88.0 L90.0,95.0 L86.0,104.0 L70.0,106.0 L50.4,106.5 L47.9,101.6 L41.8,96.7 L38.2,91.8 L32.0,87.0 L27.2,83.3 L23.5,80.9 L26.0,77.2 L27.2,71.1 L28.4,65.0 L29.0,61.0 L27.8,58.0 L25.0,52.0 L24.6,46.5 L24.9,40.0Z" fill="#C8C0A0"/><path d="M46.0,62.4 L52.0,60.5 L64.8,63.1 L78.9,60.3 L90.2,61.7 L95.5,68.6 L95.5,80.1 L98.1,92.9 L87.8,105.6 L82.6,117.1 L79.0,115.8 L68.0,99.2 L56.0,79.7 L47.5,68.6Z" fill="#A8C8D8"/><path d="M24.9,40.0 L25.9,34.5 L31.7,29.6 L39.5,24.8 L49.3,21.8 L59.0,20.0 L72.5,20.3 L80.0,22.0 L86.0,23.5 L83.0,28.0 L80.0,34.0 L77.0,38.0 L72.0,39.0 L66.1,39.6 L61.5,42.0 L56.9,46.0 L50.0,50.0 L43.0,54.6 L37.3,58.0 L30.0,61.5 L29.0,61.0 L27.8,58.0 L25.0,52.0 L24.6,46.5Z" fill="#4A80CC"/><path d="M86.0,23.5 L88.4,23.8 L97.5,28.1 L106.3,32.5 L110.0,36.3 L108.8,42.5 L105.0,48.8 L101.3,52.5 L96.3,56.3 L93.0,57.5 L90.0,54.0 L85.0,49.0 L80.0,43.5 L76.5,40.0 L77.0,38.0 L80.0,34.0 L83.0,28.0Z" fill="#1D44A8"/><path d="M84.0,45.0 L87.0,41.0 L92.0,41.5 L95.0,44.0 L93.0,48.0 L88.0,48.5Z" fill="#C8C0A0"/><path d="M68.0,69.0 L76.0,67.0 L86.0,67.5 L94.0,68.0 L96.5,75.0 L96.0,84.0 L94.5,89.0 L90.0,92.0 L84.0,93.0 L76.0,92.0 L69.0,89.0 L66.0,83.0 L66.0,75.0Z" fill="#4F86D0"/><path d="M64.5,84.0 L70.0,80.5 L77.0,84.0 L76.0,91.0 L69.0,89.0Z" fill="#C8C0A0"/><path d="M79.0,97.0 L84.0,94.0 L90.0,91.5 L96.0,90.0 L100.0,89.5 L103.9,92.0 L101.0,95.0 L97.0,99.0 L93.0,102.0 L88.0,104.5 L83.0,105.6 L79.0,103.0 L78.0,100.0Z" fill="#4F86D0"/><path d="M47.5,110.0 L50.0,106.0 L52.0,103.0 L55.0,104.5 L57.0,101.0 L59.5,103.5 L62.0,100.5 L65.0,102.5 L67.0,99.5 L70.5,101.8 L73.0,98.8 L76.0,100.5 L79.0,98.5 L82.0,100.8 L84.5,100.5 L86.5,104.0 L86.0,109.0 L82.0,113.0 L77.0,117.0 L75.0,120.0 L74.5,125.0 L73.0,131.0 L71.0,136.0 L70.0,138.5 L67.8,138.5 L67.3,132.0 L66.5,129.5 L63.0,129.0 L59.0,127.0 L56.0,124.0 L53.5,120.0 L52.0,117.5 L49.5,115.5 L47.5,113.0Z" fill="#D0B890"/><path d="M74.0,100.0 L80.0,99.0 L86.0,103.0 L88.0,106.0 L87.0,110.0 L84.0,113.0 L82.5,115.0 L78.0,118.0 L75.0,117.0 L72.0,110.0 L70.0,104.0Z" fill="#D0B890"/><path d="M55.5,117.0 L58.0,116.0 L62.0,115.5 L66.6,115.6 L66.6,126.5 L63.5,126.0 L60.0,124.0 L57.3,121.0Z" fill="#fff"/><path d="M63.0,138.0 L66.0,137.0 L70.0,137.5 L72.0,139.0 L71.5,145.0 L72.0,150.0 L71.5,154.2 L68.0,153.0 L64.0,149.0 L62.0,144.0 L61.5,140.0Z" fill="#4F86D0"/><path d="M106.0,46.0 L108.5,44.0 L112.0,46.5 L115.0,50.0 L118.0,54.0 L121.5,56.0 L122.5,58.5 L120.0,60.5 L116.0,59.0 L113.0,61.0 L110.5,58.0 L109.0,53.0 L107.0,50.0Z" fill="#1D44A8"/></g></g><g transform="translate(52.10,362.10) scale(0.255) translate(-18.8,-20)"><path d="M111.0,38.2 L118.8,38.4 L118.8,39.6 L111.0,39.6Z" fill="#1D44A8"/><path d="M19.3,91.0 L21.0,89.0 L24.0,88.8 L27.0,89.5 L30.0,91.0 L35.0,92.5 L39.4,93.5 L38.0,96.7 L32.0,96.5 L27.0,95.5 L22.0,95.0 L19.3,93.5Z" fill="#D0A070"/><path d="M34.5,108.5 L40.0,104.2 L45.5,101.0 L46.5,102.8 L41.0,106.5 L35.5,110.0Z" fill="#4F86D0"/><path d="M157.4,92.6 L165.0,92.8 L176.0,92.8 L176.0,94.6 L165.0,94.8 L157.4,94.4Z" fill="#4F86D0"/><path d="M172.6,83.7 L175.0,83.7 L175.6,89.0 L173.0,89.0Z" fill="#4F86D0"/></g><text x="58.70" y="359.50" font-size="7.4" text-anchor="middle" fill="#222" stroke="#222" stroke-width="0.06" textLength="47.70" lengthAdjust="spacingAndGlyphs" >PD-1 (<tspan font-style="italic">PDCD1</tspan>)</text><g filter="url(#spkD)"><g transform="translate(94.70,362.10) scale(0.255) translate(-18.8,-20)"><path d="M25.9,34.5 L31.7,29.6 L39.5,24.8 L49.3,21.8 L59.0,20.0 L72.5,20.3 L85.0,24.4 L97.5,28.1 L106.3,32.5 L110.0,36.3 L108.8,42.5 L105.0,48.8 L101.3,52.5 L96.3,56.3 L93.0,58.5 L91.0,62.0 L91.5,66.0 L95.1,69.0 L96.5,76.3 L95.8,83.6 L94.4,88.0 L90.0,95.0 L86.0,104.0 L70.0,106.0 L50.4,106.5 L47.9,101.6 L41.8,96.7 L38.2,91.8 L32.0,87.0 L27.2,83.3 L23.5,80.9 L26.0,77.2 L27.2,71.1 L28.4,65.0 L29.0,61.0 L27.8,58.0 L25.0,52.0 L24.6,46.5 L24.9,40.0Z" fill="#2E58B8"/><path d="M46.0,62.4 L52.0,60.5 L64.8,63.1 L78.9,60.3 L90.2,61.7 L95.5,68.6 L95.5,80.1 L98.1,92.9 L87.8,105.6 L82.6,117.1 L79.0,115.8 L68.0,99.2 L56.0,79.7 L47.5,68.6Z" fill="#2E58B8"/><path d="M24.9,40.0 L25.9,34.5 L31.7,29.6 L39.5,24.8 L49.3,21.8 L59.0,20.0 L72.5,20.3 L80.0,22.0 L86.0,23.5 L83.0,28.0 L80.0,34.0 L77.0,38.0 L72.0,39.0 L66.1,39.6 L61.5,42.0 L56.9,46.0 L50.0,50.0 L43.0,54.6 L37.3,58.0 L30.0,61.5 L29.0,61.0 L27.8,58.0 L25.0,52.0 L24.6,46.5Z" fill="#3A66C0"/><path d="M86.0,23.5 L88.4,23.8 L97.5,28.1 L106.3,32.5 L110.0,36.3 L108.8,42.5 L105.0,48.8 L101.3,52.5 L96.3,56.3 L93.0,57.5 L90.0,54.0 L85.0,49.0 L80.0,43.5 L76.5,40.0 L77.0,38.0 L80.0,34.0 L83.0,28.0Z" fill="#1D44A8"/><path d="M84.0,45.0 L87.0,41.0 L92.0,41.5 L95.0,44.0 L93.0,48.0 L88.0,48.5Z" fill="#2E58B8"/><path d="M68.0,69.0 L76.0,67.0 L86.0,67.5 L94.0,68.0 L96.5,75.0 L96.0,84.0 L94.5,89.0 L90.0,92.0 L84.0,93.0 L76.0,92.0 L69.0,89.0 L66.0,83.0 L66.0,75.0Z" fill="#4F86D0"/><path d="M64.5,84.0 L70.0,80.5 L77.0,84.0 L76.0,91.0 L69.0,89.0Z" fill="#2E58B8"/><path d="M79.0,97.0 L84.0,94.0 L90.0,91.5 L96.0,90.0 L100.0,89.5 L103.9,92.0 L101.0,95.0 L97.0,99.0 L93.0,102.0 L88.0,104.5 L83.0,105.6 L79.0,103.0 L78.0,100.0Z" fill="#4070C8"/><path d="M47.5,110.0 L50.0,106.0 L52.0,103.0 L55.0,104.5 L57.0,101.0 L59.5,103.5 L62.0,100.5 L65.0,102.5 L67.0,99.5 L70.5,101.8 L73.0,98.8 L76.0,100.5 L79.0,98.5 L82.0,100.8 L84.5,100.5 L86.5,104.0 L86.0,109.0 L82.0,113.0 L77.0,117.0 L75.0,120.0 L74.5,125.0 L73.0,131.0 L71.0,136.0 L70.0,138.5 L67.8,138.5 L67.3,132.0 L66.5,129.5 L63.0,129.0 L59.0,127.0 L56.0,124.0 L53.5,120.0 L52.0,117.5 L49.5,115.5 L47.5,113.0Z" fill="#3560BC"/><path d="M74.0,100.0 L80.0,99.0 L86.0,103.0 L88.0,106.0 L87.0,110.0 L84.0,113.0 L82.5,115.0 L78.0,118.0 L75.0,117.0 L72.0,110.0 L70.0,104.0Z" fill="#3560BC"/><path d="M55.5,117.0 L58.0,116.0 L62.0,115.5 L66.6,115.6 L66.6,126.5 L63.5,126.0 L60.0,124.0 L57.3,121.0Z" fill="#fff"/><path d="M63.0,138.0 L66.0,137.0 L70.0,137.5 L72.0,139.0 L71.5,145.0 L72.0,150.0 L71.5,154.2 L68.0,153.0 L64.0,149.0 L62.0,144.0 L61.5,140.0Z" fill="#1D44A8"/><path d="M106.0,46.0 L108.5,44.0 L112.0,46.5 L115.0,50.0 L118.0,54.0 L121.5,56.0 L122.5,58.5 L120.0,60.5 L116.0,59.0 L113.0,61.0 L110.5,58.0 L109.0,53.0 L107.0,50.0Z" fill="#1D44A8"/></g></g><g transform="translate(94.70,362.10) scale(0.255) translate(-18.8,-20)"><path d="M111.0,38.2 L118.8,38.4 L118.8,39.6 L111.0,39.6Z" fill="#1D44A8"/><path d="M19.3,91.0 L21.0,89.0 L24.0,88.8 L27.0,89.5 L30.0,91.0 L35.0,92.5 L39.4,93.5 L38.0,96.7 L32.0,96.5 L27.0,95.5 L22.0,95.0 L19.3,93.5Z" fill="#1D44A8"/><path d="M34.5,108.5 L40.0,104.2 L45.5,101.0 L46.5,102.8 L41.0,106.5 L35.5,110.0Z" fill="#1D44A8"/><path d="M157.4,92.6 L165.0,92.8 L176.0,92.8 L176.0,94.6 L165.0,94.8 L157.4,94.4Z" fill="#4F86D0"/><path d="M172.6,83.7 L175.0,83.7 L175.6,89.0 L173.0,89.0Z" fill="#4F86D0"/></g><text x="102.50" y="359.50" font-size="7.4" text-anchor="middle" fill="#222" stroke="#222" stroke-width="0.06" ><tspan font-style="italic">PRF1</tspan></text><path d="M136.3,216.6 H109.5 M136.3,216.6 V244.5" stroke="#111" stroke-width="1" fill="none"/><path d="M110,214 L106.4,216.6 L110,219.2Z M133.7,244 L136.3,247.6 L138.9,244Z" fill="#111"/><text x="124.90" y="210.20" font-size="7" text-anchor="middle" fill="#222" stroke="#222" stroke-width="0.06" textLength="25.80" lengthAdjust="spacingAndGlyphs" >UMAP-1</text><text x="144.70" y="229.60" font-size="7" text-anchor="middle" fill="#222" stroke="#222" stroke-width="0.06" textLength="25.60" lengthAdjust="spacingAndGlyphs" transform="rotate(90 144.70 229.60)" >UMAP-2</text><defs><linearGradient id="cbg" x1="0" y1="1" x2="0" y2="0"><stop offset="0" stop-color="#1E48A8"/><stop offset="0.12" stop-color="#3D7FD0"/><stop offset="0.27" stop-color="#70B0E8"/><stop offset="0.4" stop-color="#B0D8F0"/><stop offset="0.5" stop-color="#F0E8B0"/><stop offset="0.64" stop-color="#F5C050"/><stop offset="0.8" stop-color="#F39A3A"/><stop offset="1" stop-color="#E8552A"/></linearGradient></defs><rect x="133.6" y="340.7" width="8.4" height="49.2" fill="url(#cbg)" stroke="#333" stroke-width="0.7"/><text x="140.00" y="365.00" font-size="7" text-anchor="middle" fill="#1a2f6b" stroke="#1a2f6b" stroke-width="0.06" textLength="24.50" lengthAdjust="spacingAndGlyphs" transform="rotate(-90 140.00 365.00)" >Percent</text><text x="145.20" y="344.20" font-size="7.2" text-anchor="start" fill="#222" stroke="#222" stroke-width="0.06" >100</text><text x="145.20" y="391.20" font-size="7.2" text-anchor="start" fill="#222" stroke="#222" stroke-width="0.06" >0</text><g filter="url(#spkE)"><path d="M264.3,366.0 L264.3,300.0 L265.5,292.0 L268.0,286.0 L271.0,284.0 L274.0,289.0 L275.6,300.0 L276.5,322.0 L279.8,322.0 L280.4,290.0 L281.5,278.0 L284.0,272.0 L288.0,270.0 L291.0,272.0 L292.8,276.0 L292.8,366.0Z" fill="#C2C2C2" /></g><circle cx="291.8" cy="265.8" r="0.95" fill="#B8B8B8"/><circle cx="289.1" cy="264.3" r="0.95" fill="#B8B8B8"/><circle cx="270.0" cy="273.8" r="0.95" fill="#B8B8B8"/><circle cx="289.1" cy="248.2" r="0.95" fill="#B8B8B8"/><circle cx="271.6" cy="284.8" r="0.95" fill="#B8B8B8"/><circle cx="275.0" cy="290.4" r="0.95" fill="#B8B8B8"/><circle cx="284.9" cy="267.4" r="0.95" fill="#B8B8B8"/><circle cx="265.3" cy="274.5" r="0.95" fill="#B8B8B8"/><circle cx="265.0" cy="261.2" r="0.95" fill="#B8B8B8"/><circle cx="291.3" cy="262.2" r="0.95" fill="#B8B8B8"/><circle cx="287.9" cy="268.1" r="0.95" fill="#B8B8B8"/><circle cx="286.7" cy="262.8" r="0.95" fill="#B8B8B8"/><circle cx="280.5" cy="312.0" r="0.95" fill="#B8B8B8"/><circle cx="287.1" cy="258.0" r="0.95" fill="#B8B8B8"/><circle cx="268.4" cy="249.6" r="0.95" fill="#B8B8B8"/><circle cx="268.7" cy="286.1" r="0.95" fill="#B8B8B8"/><circle cx="279.7" cy="270.0" r="0.95" fill="#B8B8B8"/><circle cx="269.6" cy="288.1" r="0.95" fill="#B8B8B8"/><circle cx="277.5" cy="273.7" r="0.95" fill="#B8B8B8"/><circle cx="285.3" cy="271.7" r="0.95" fill="#B8B8B8"/><circle cx="271.6" cy="265.9" r="0.95" fill="#B8B8B8"/><circle cx="288.6" cy="249.5" r="0.95" fill="#B8B8B8"/><circle cx="268.5" cy="248.6" r="0.95" fill="#B8B8B8"/><circle cx="268.6" cy="275.7" r="0.95" fill="#B8B8B8"/><circle cx="266.0" cy="282.1" r="0.95" fill="#B8B8B8"/><circle cx="289.5" cy="249.5" r="0.95" fill="#B8B8B8"/><circle cx="271.2" cy="262.7" r="0.95" fill="#B8B8B8"/><circle cx="291.7" cy="257.6" r="0.95" fill="#B8B8B8"/><circle cx="271.2" cy="268.7" r="0.95" fill="#B8B8B8"/><circle cx="292.4" cy="248.6" r="0.95" fill="#B8B8B8"/><circle cx="269.8" cy="262.1" r="0.95" fill="#B8B8B8"/><circle cx="265.3" cy="264.1" r="0.95" fill="#B8B8B8"/><circle cx="266.9" cy="276.6" r="0.95" fill="#B8B8B8"/><circle cx="288.4" cy="260.0" r="0.95" fill="#B8B8B8"/><circle cx="277.9" cy="298.7" r="0.95" fill="#B8B8B8"/><circle cx="287.5" cy="252.7" r="0.95" fill="#B8B8B8"/><circle cx="284.9" cy="272.7" r="0.95" fill="#B8B8B8"/><circle cx="273.7" cy="282.4" r="0.95" fill="#B8B8B8"/><circle cx="274.0" cy="289.4" r="0.95" fill="#B8B8B8"/><circle cx="285.5" cy="261.6" r="0.95" fill="#B8B8B8"/><circle cx="267.3" cy="289.8" r="0.95" fill="#B8B8B8"/><circle cx="291.3" cy="255.8" r="0.95" fill="#B8B8B8"/><circle cx="286.9" cy="257.2" r="0.95" fill="#B8B8B8"/><circle cx="288.9" cy="246.6" r="0.95" fill="#B8B8B8"/><circle cx="288.5" cy="273.5" r="0.95" fill="#B8B8B8"/><circle cx="266.9" cy="288.4" r="0.95" fill="#B8B8B8"/><circle cx="267.7" cy="262.7" r="0.95" fill="#B8B8B8"/><circle cx="267.0" cy="257.4" r="0.95" fill="#B8B8B8"/><circle cx="289.1" cy="250.3" r="0.95" fill="#B8B8B8"/><circle cx="288.8" cy="276.6" r="0.95" fill="#B8B8B8"/><circle cx="284.9" cy="266.5" r="0.95" fill="#B8B8B8"/><circle cx="268.3" cy="243.7" r="0.95" fill="#B8B8B8"/><circle cx="281.9" cy="276.1" r="0.95" fill="#B8B8B8"/><circle cx="290.3" cy="263.5" r="0.95" fill="#B8B8B8"/><circle cx="265.6" cy="291.0" r="0.95" fill="#B8B8B8"/><circle cx="291.5" cy="270.6" r="0.95" fill="#B8B8B8"/><circle cx="290.5" cy="269.8" r="0.95" fill="#B8B8B8"/><circle cx="290.2" cy="259.3" r="0.95" fill="#B8B8B8"/><circle cx="286.5" cy="274.0" r="0.95" fill="#B8B8B8"/><circle cx="288.1" cy="273.8" r="0.95" fill="#B8B8B8"/><circle cx="289.4" cy="260.3" r="0.95" fill="#B8B8B8"/><circle cx="290.8" cy="247.4" r="0.95" fill="#B8B8B8"/><circle cx="279.9" cy="306.4" r="0.95" fill="#B8B8B8"/><circle cx="270.3" cy="282.2" r="0.95" fill="#B8B8B8"/><circle cx="265.6" cy="285.8" r="0.95" fill="#B8B8B8"/><circle cx="290.9" cy="243.6" r="0.95" fill="#B8B8B8"/><circle cx="290.6" cy="254.7" r="0.95" fill="#B8B8B8"/><circle cx="291.8" cy="267.4" r="0.95" fill="#B8B8B8"/><circle cx="265.9" cy="242.5" r="0.95" fill="#B8B8B8"/><circle cx="287.5" cy="253.6" r="0.95" fill="#B8B8B8"/><circle cx="287.3" cy="268.6" r="0.95" fill="#B8B8B8"/><circle cx="290.1" cy="258.4" r="0.95" fill="#B8B8B8"/><circle cx="271.0" cy="270.4" r="0.95" fill="#B8B8B8"/><circle cx="286.1" cy="274.2" r="0.95" fill="#B8B8B8"/><circle cx="286.4" cy="258.1" r="0.95" fill="#B8B8B8"/><circle cx="291.0" cy="273.2" r="0.95" fill="#B8B8B8"/><circle cx="284.7" cy="275.8" r="0.95" fill="#B8B8B8"/><circle cx="267.0" cy="271.2" r="0.95" fill="#B8B8B8"/><circle cx="269.6" cy="269.6" r="0.95" fill="#B8B8B8"/><circle cx="291.4" cy="258.0" r="0.95" fill="#B8B8B8"/><circle cx="277.8" cy="273.7" r="0.95" fill="#B8B8B8"/><circle cx="265.2" cy="286.9" r="0.95" fill="#B8B8B8"/><circle cx="286.5" cy="266.1" r="0.95" fill="#B8B8B8"/><circle cx="289.3" cy="242.5" r="0.95" fill="#B8B8B8"/><circle cx="291.8" cy="243.1" r="0.95" fill="#B8B8B8"/><circle cx="265.1" cy="255.0" r="0.95" fill="#B8B8B8"/><circle cx="289.6" cy="262.4" r="0.95" fill="#B8B8B8"/><circle cx="292.1" cy="272.4" r="0.95" fill="#B8B8B8"/><circle cx="289.3" cy="253.4" r="0.95" fill="#B8B8B8"/><circle cx="266.5" cy="242.4" r="0.95" fill="#B8B8B8"/><circle cx="288.2" cy="252.5" r="0.95" fill="#B8B8B8"/><circle cx="269.6" cy="280.9" r="0.95" fill="#B8B8B8"/><circle cx="286.6" cy="271.1" r="0.95" fill="#B8B8B8"/><circle cx="282.9" cy="274.8" r="0.95" fill="#B8B8B8"/><circle cx="284.2" cy="270.3" r="0.95" fill="#B8B8B8"/><circle cx="266.0" cy="236.6" r="0.85" fill="#B0B0B0"/><circle cx="267.6" cy="236.6" r="0.85" fill="#B0B0B0"/><circle cx="269.2" cy="236.6" r="0.85" fill="#B0B0B0"/><circle cx="270.8" cy="236.6" r="0.85" fill="#B0B0B0"/><circle cx="272.4" cy="236.6" r="0.85" fill="#B0B0B0"/><circle cx="274.0" cy="236.6" r="0.85" fill="#B0B0B0"/><circle cx="284.6" cy="236.6" r="0.85" fill="#B0B0B0"/><circle cx="286.2" cy="236.6" r="0.85" fill="#B0B0B0"/><circle cx="287.8" cy="236.6" r="0.85" fill="#B0B0B0"/><circle cx="289.4" cy="236.6" r="0.85" fill="#B0B0B0"/><circle cx="291.0" cy="236.6" r="0.85" fill="#B0B0B0"/><circle cx="292.3" cy="236.6" r="0.85" fill="#B0B0B0"/><circle cx="274.0" cy="238.2" r="0.8" fill="#B0B0B0"/><circle cx="284.6" cy="238.2" r="0.8" fill="#B0B0B0"/><circle cx="274.0" cy="239.8" r="0.8" fill="#B0B0B0"/><circle cx="284.6" cy="239.8" r="0.8" fill="#B0B0B0"/><circle cx="316.4" cy="355.4" r="0.6" fill="#C8C8C8"/><circle cx="306.7" cy="360.4" r="0.6" fill="#C8C8C8"/><circle cx="231.2" cy="359.6" r="0.6" fill="#C8C8C8"/><circle cx="298.9" cy="357.7" r="0.6" fill="#C8C8C8"/><circle cx="224.4" cy="354.7" r="0.6" fill="#C8C8C8"/><circle cx="305.5" cy="362.0" r="0.6" fill="#C8C8C8"/><circle cx="210.0" cy="354.9" r="0.6" fill="#C8C8C8"/><circle cx="261.3" cy="360.6" r="0.6" fill="#C8C8C8"/><circle cx="260.4" cy="363.8" r="0.6" fill="#C8C8C8"/><circle cx="255.5" cy="358.0" r="0.6" fill="#C8C8C8"/><circle cx="314.3" cy="360.1" r="0.6" fill="#C8C8C8"/><circle cx="235.8" cy="363.7" r="0.6" fill="#C8C8C8"/><circle cx="316.6" cy="363.4" r="0.6" fill="#C8C8C8"/><circle cx="307.1" cy="355.1" r="0.6" fill="#C8C8C8"/><g filter="url(#spkE)"><path d="M263.4,346.5 L263.4,296.0 L261.5,292.0 L259.5,302.0 L257.0,316.0 L254.5,328.0 L253.0,337.0 L255.0,343.0 L258.5,346.5Z" fill="#5AAAF0" /></g><circle cx="253.7" cy="329.5" r="1.25" fill="#5AAAF0"/><circle cx="253.7" cy="338.6" r="1.25" fill="#5AAAF0"/><circle cx="259.7" cy="340.1" r="1.25" fill="#5AAAF0"/><circle cx="258.3" cy="312.4" r="1.25" fill="#5AAAF0"/><circle cx="262.4" cy="286.1" r="1.25" fill="#5AAAF0"/><circle cx="253.0" cy="273.1" r="1.25" fill="#5AAAF0"/><circle cx="262.8" cy="315.9" r="1.25" fill="#5AAAF0"/><circle cx="263.0" cy="335.0" r="1.25" fill="#5AAAF0"/><circle cx="262.4" cy="342.8" r="1.25" fill="#5AAAF0"/><circle cx="261.8" cy="341.3" r="1.25" fill="#5AAAF0"/><circle cx="255.3" cy="278.3" r="1.25" fill="#5AAAF0"/><circle cx="255.0" cy="341.7" r="1.25" fill="#5AAAF0"/><circle cx="261.7" cy="294.0" r="1.25" fill="#5AAAF0"/><circle cx="262.7" cy="260.5" r="1.25" fill="#5AAAF0"/><circle cx="257.1" cy="247.8" r="1.25" fill="#5AAAF0"/><circle cx="261.3" cy="289.2" r="1.25" fill="#5AAAF0"/><circle cx="259.4" cy="289.7" r="1.25" fill="#5AAAF0"/><circle cx="254.7" cy="259.2" r="1.25" fill="#5AAAF0"/><circle cx="263.0" cy="326.1" r="1.25" fill="#5AAAF0"/><circle cx="263.0" cy="328.9" r="1.25" fill="#5AAAF0"/><circle cx="257.6" cy="249.6" r="1.25" fill="#5AAAF0"/><circle cx="262.6" cy="340.9" r="1.25" fill="#5AAAF0"/><circle cx="253.3" cy="339.1" r="1.25" fill="#5AAAF0"/><circle cx="261.3" cy="293.4" r="1.25" fill="#5AAAF0"/><circle cx="252.7" cy="266.6" r="1.25" fill="#5AAAF0"/><circle cx="252.1" cy="334.2" r="1.25" fill="#5AAAF0"/><circle cx="248.1" cy="292.0" r="1.25" fill="#5AAAF0"/><circle cx="258.3" cy="289.4" r="1.25" fill="#5AAAF0"/><circle cx="262.6" cy="262.5" r="1.25" fill="#5AAAF0"/><circle cx="255.1" cy="343.8" r="1.25" fill="#5AAAF0"/><circle cx="263.0" cy="343.1" r="1.25" fill="#5AAAF0"/><circle cx="260.5" cy="281.8" r="1.25" fill="#5AAAF0"/><circle cx="251.2" cy="302.5" r="1.25" fill="#5AAAF0"/><circle cx="263.0" cy="338.2" r="1.25" fill="#5AAAF0"/><circle cx="259.2" cy="332.6" r="1.25" fill="#5AAAF0"/><circle cx="253.9" cy="340.5" r="1.25" fill="#5AAAF0"/><circle cx="252.3" cy="266.5" r="1.25" fill="#5AAAF0"/><circle cx="262.7" cy="333.1" r="1.25" fill="#5AAAF0"/><circle cx="259.8" cy="344.0" r="1.25" fill="#5AAAF0"/><circle cx="245.9" cy="302.3" r="1.25" fill="#5AAAF0"/><circle cx="254.0" cy="304.5" r="1.25" fill="#5AAAF0"/><circle cx="260.6" cy="271.5" r="1.25" fill="#5AAAF0"/><circle cx="245.5" cy="341.2" r="1.25" fill="#5AAAF0"/><circle cx="259.1" cy="291.9" r="1.25" fill="#5AAAF0"/><circle cx="262.0" cy="328.5" r="1.25" fill="#5AAAF0"/><circle cx="261.1" cy="328.8" r="1.25" fill="#5AAAF0"/><circle cx="254.9" cy="319.6" r="1.25" fill="#5AAAF0"/><circle cx="261.1" cy="322.7" r="1.25" fill="#5AAAF0"/><circle cx="259.3" cy="327.6" r="1.25" fill="#5AAAF0"/><circle cx="261.8" cy="340.2" r="1.25" fill="#5AAAF0"/><circle cx="257.6" cy="250.3" r="1.25" fill="#5AAAF0"/><circle cx="262.1" cy="320.2" r="1.25" fill="#5AAAF0"/><circle cx="251.5" cy="318.3" r="1.25" fill="#5AAAF0"/><circle cx="261.2" cy="318.0" r="1.25" fill="#5AAAF0"/><circle cx="251.1" cy="293.0" r="1.25" fill="#5AAAF0"/><circle cx="249.8" cy="321.5" r="1.25" fill="#5AAAF0"/><circle cx="246.7" cy="307.8" r="1.25" fill="#5AAAF0"/><circle cx="262.7" cy="332.5" r="1.25" fill="#5AAAF0"/><circle cx="259.5" cy="321.7" r="1.25" fill="#5AAAF0"/><circle cx="254.0" cy="274.6" r="1.25" fill="#5AAAF0"/><circle cx="257.6" cy="319.7" r="1.25" fill="#5AAAF0"/><circle cx="256.6" cy="328.0" r="1.25" fill="#5AAAF0"/><circle cx="254.3" cy="253.9" r="1.25" fill="#5AAAF0"/><circle cx="260.0" cy="318.5" r="1.25" fill="#5AAAF0"/><circle cx="255.1" cy="317.0" r="1.25" fill="#5AAAF0"/><circle cx="259.6" cy="280.6" r="1.25" fill="#5AAAF0"/><circle cx="262.8" cy="289.9" r="1.25" fill="#5AAAF0"/><circle cx="262.5" cy="255.5" r="1.25" fill="#5AAAF0"/><circle cx="260.9" cy="315.5" r="1.25" fill="#5AAAF0"/><circle cx="262.2" cy="337.3" r="1.25" fill="#5AAAF0"/><circle cx="260.5" cy="286.1" r="1.25" fill="#5AAAF0"/><circle cx="262.8" cy="332.1" r="1.25" fill="#5AAAF0"/><circle cx="263.0" cy="315.6" r="1.25" fill="#5AAAF0"/><circle cx="258.3" cy="292.0" r="1.25" fill="#5AAAF0"/><circle cx="246.6" cy="331.2" r="1.25" fill="#5AAAF0"/><circle cx="251.6" cy="317.9" r="1.25" fill="#5AAAF0"/><circle cx="262.8" cy="314.2" r="1.25" fill="#5AAAF0"/><circle cx="246.7" cy="341.8" r="1.25" fill="#5AAAF0"/><circle cx="205.8" cy="236.7" r="1.3" fill="#5AAAF0"/><circle cx="239.5" cy="238.5" r="1.3" fill="#5AAAF0"/><circle cx="251.5" cy="238.5" r="1.3" fill="#5AAAF0"/><circle cx="245.5" cy="243.8" r="1.3" fill="#5AAAF0"/><circle cx="250.5" cy="247.5" r="1.3" fill="#5AAAF0"/><circle cx="255.0" cy="252.0" r="1.3" fill="#5AAAF0"/><circle cx="253.0" cy="283.5" r="1.3" fill="#5AAAF0"/><circle cx="254.5" cy="287.5" r="1.3" fill="#5AAAF0"/><circle cx="249.0" cy="300.5" r="1.3" fill="#5AAAF0"/><circle cx="247.0" cy="296.5" r="1.3" fill="#5AAAF0"/><circle cx="252.5" cy="325.0" r="1.3" fill="#5AAAF0"/><circle cx="246.0" cy="330.5" r="1.3" fill="#5AAAF0"/><circle cx="244.0" cy="334.0" r="1.3" fill="#5AAAF0"/><circle cx="249.5" cy="338.0" r="1.3" fill="#5AAAF0"/><g filter="url(#spkE)"><path d="M293.2,347.5 L293.2,262.0 L295.5,268.0 L297.5,280.0 L300.0,295.0 L303.0,310.0 L305.5,323.0 L305.0,334.0 L301.0,342.0 L297.0,346.5Z" fill="#F7A823" /></g><circle cx="294.2" cy="290.1" r="1.5" fill="#F7A823"/><circle cx="293.7" cy="319.0" r="1.5" fill="#F7A823"/><circle cx="295.5" cy="309.4" r="1.5" fill="#F7A823"/><circle cx="300.4" cy="259.6" r="1.5" fill="#F7A823"/><circle cx="299.0" cy="256.4" r="1.5" fill="#F7A823"/><circle cx="294.0" cy="261.3" r="1.5" fill="#F7A823"/><circle cx="302.8" cy="299.5" r="1.5" fill="#F7A823"/><circle cx="295.1" cy="268.5" r="1.5" fill="#F7A823"/><circle cx="301.7" cy="317.1" r="1.5" fill="#F7A823"/><circle cx="295.6" cy="312.9" r="1.5" fill="#F7A823"/><circle cx="293.6" cy="344.2" r="1.5" fill="#F7A823"/><circle cx="294.3" cy="335.4" r="1.5" fill="#F7A823"/><circle cx="294.1" cy="270.9" r="1.5" fill="#F7A823"/><circle cx="304.4" cy="288.6" r="1.5" fill="#F7A823"/><circle cx="300.8" cy="275.2" r="1.5" fill="#F7A823"/><circle cx="295.2" cy="318.0" r="1.5" fill="#F7A823"/><circle cx="293.7" cy="310.4" r="1.5" fill="#F7A823"/><circle cx="295.1" cy="259.8" r="1.5" fill="#F7A823"/><circle cx="295.5" cy="321.4" r="1.5" fill="#F7A823"/><circle cx="299.7" cy="289.1" r="1.5" fill="#F7A823"/><circle cx="295.2" cy="302.1" r="1.5" fill="#F7A823"/><circle cx="296.9" cy="330.5" r="1.5" fill="#F7A823"/><circle cx="300.1" cy="282.0" r="1.5" fill="#F7A823"/><circle cx="302.2" cy="308.5" r="1.5" fill="#F7A823"/><circle cx="294.4" cy="325.4" r="1.5" fill="#F7A823"/><circle cx="293.8" cy="344.5" r="1.5" fill="#F7A823"/><circle cx="301.6" cy="299.0" r="1.5" fill="#F7A823"/><circle cx="299.2" cy="271.9" r="1.5" fill="#F7A823"/><circle cx="304.8" cy="256.6" r="1.5" fill="#F7A823"/><circle cx="296.1" cy="328.1" r="1.5" fill="#F7A823"/><circle cx="294.4" cy="336.7" r="1.5" fill="#F7A823"/><circle cx="296.8" cy="322.6" r="1.5" fill="#F7A823"/><circle cx="296.2" cy="313.1" r="1.5" fill="#F7A823"/><circle cx="299.0" cy="334.0" r="1.5" fill="#F7A823"/><circle cx="299.5" cy="304.0" r="1.5" fill="#F7A823"/><circle cx="305.4" cy="260.0" r="1.5" fill="#F7A823"/><circle cx="302.0" cy="318.7" r="1.5" fill="#F7A823"/><circle cx="294.3" cy="332.6" r="1.5" fill="#F7A823"/><circle cx="300.4" cy="296.0" r="1.5" fill="#F7A823"/><circle cx="299.8" cy="253.7" r="1.5" fill="#F7A823"/><circle cx="294.1" cy="273.7" r="1.5" fill="#F7A823"/><circle cx="307.4" cy="259.7" r="1.5" fill="#F7A823"/><circle cx="295.4" cy="269.1" r="1.5" fill="#F7A823"/><circle cx="304.2" cy="296.5" r="1.5" fill="#F7A823"/><circle cx="299.0" cy="262.8" r="1.5" fill="#F7A823"/><circle cx="302.0" cy="310.5" r="1.5" fill="#F7A823"/><circle cx="298.3" cy="332.4" r="1.5" fill="#F7A823"/><circle cx="297.2" cy="285.6" r="1.5" fill="#F7A823"/><circle cx="305.1" cy="293.4" r="1.5" fill="#F7A823"/><circle cx="293.8" cy="342.9" r="1.5" fill="#F7A823"/><circle cx="295.1" cy="274.7" r="1.5" fill="#F7A823"/><circle cx="298.5" cy="280.9" r="1.5" fill="#F7A823"/><circle cx="294.6" cy="313.9" r="1.5" fill="#F7A823"/><circle cx="299.0" cy="249.6" r="1.5" fill="#F7A823"/><circle cx="298.9" cy="294.4" r="1.5" fill="#F7A823"/><circle cx="296.8" cy="342.5" r="1.5" fill="#F7A823"/><circle cx="298.4" cy="307.6" r="1.5" fill="#F7A823"/><circle cx="293.7" cy="321.1" r="1.5" fill="#F7A823"/><circle cx="297.5" cy="338.5" r="1.5" fill="#F7A823"/><circle cx="297.7" cy="336.6" r="1.5" fill="#F7A823"/><circle cx="296.4" cy="296.6" r="1.5" fill="#F7A823"/><circle cx="302.9" cy="265.9" r="1.5" fill="#F7A823"/><circle cx="293.8" cy="260.2" r="1.5" fill="#F7A823"/><circle cx="294.4" cy="278.3" r="1.5" fill="#F7A823"/><circle cx="293.7" cy="291.6" r="1.5" fill="#F7A823"/><circle cx="294.6" cy="248.2" r="1.5" fill="#F7A823"/><circle cx="297.2" cy="265.6" r="1.5" fill="#F7A823"/><circle cx="311.8" cy="254.3" r="1.5" fill="#F7A823"/><circle cx="294.0" cy="316.0" r="1.5" fill="#F7A823"/><circle cx="296.3" cy="282.9" r="1.5" fill="#F7A823"/><circle cx="294.0" cy="293.9" r="1.5" fill="#F7A823"/><circle cx="299.5" cy="334.7" r="1.5" fill="#F7A823"/><circle cx="297.1" cy="303.3" r="1.5" fill="#F7A823"/><circle cx="294.0" cy="263.5" r="1.5" fill="#F7A823"/><circle cx="295.1" cy="291.9" r="1.5" fill="#F7A823"/><circle cx="293.9" cy="333.1" r="1.5" fill="#F7A823"/><circle cx="314.7" cy="253.8" r="1.5" fill="#F7A823"/><circle cx="294.0" cy="308.7" r="1.5" fill="#F7A823"/><circle cx="293.6" cy="310.0" r="1.5" fill="#F7A823"/><circle cx="303.9" cy="308.7" r="1.5" fill="#F7A823"/><circle cx="296.8" cy="335.8" r="1.5" fill="#F7A823"/><circle cx="296.6" cy="283.8" r="1.5" fill="#F7A823"/><circle cx="305.5" cy="273.6" r="1.5" fill="#F7A823"/><circle cx="300.6" cy="309.1" r="1.5" fill="#F7A823"/><circle cx="294.8" cy="290.6" r="1.5" fill="#F7A823"/><circle cx="299.4" cy="331.8" r="1.5" fill="#F7A823"/><circle cx="297.8" cy="335.0" r="1.5" fill="#F7A823"/><circle cx="297.2" cy="332.3" r="1.5" fill="#F7A823"/><circle cx="299.2" cy="280.2" r="1.5" fill="#F7A823"/><circle cx="293.6" cy="293.1" r="1.5" fill="#F7A823"/><circle cx="296.2" cy="254.7" r="1.5" fill="#F7A823"/><circle cx="302.3" cy="283.6" r="1.5" fill="#F7A823"/><circle cx="295.1" cy="342.8" r="1.5" fill="#F7A823"/><circle cx="299.5" cy="341.3" r="1.5" fill="#F7A823"/><circle cx="294.7" cy="342.7" r="1.5" fill="#F7A823"/><circle cx="295.0" cy="279.5" r="1.5" fill="#F7A823"/><circle cx="294.8" cy="276.9" r="1.5" fill="#F7A823"/><circle cx="301.1" cy="316.8" r="1.5" fill="#F7A823"/><circle cx="295.3" cy="334.0" r="1.5" fill="#F7A823"/><circle cx="299.3" cy="319.2" r="1.5" fill="#F7A823"/><circle cx="303.9" cy="263.4" r="1.5" fill="#F7A823"/><circle cx="297.6" cy="339.3" r="1.5" fill="#F7A823"/><circle cx="295.5" cy="327.0" r="1.5" fill="#F7A823"/><circle cx="305.8" cy="274.9" r="1.5" fill="#F7A823"/><circle cx="303.7" cy="290.9" r="1.5" fill="#F7A823"/><circle cx="294.8" cy="343.9" r="1.5" fill="#F7A823"/><circle cx="305.7" cy="297.4" r="1.5" fill="#F7A823"/><circle cx="293.9" cy="325.0" r="1.5" fill="#F7A823"/><circle cx="294.4" cy="268.9" r="1.5" fill="#F7A823"/><circle cx="297.8" cy="338.9" r="1.5" fill="#F7A823"/><circle cx="307.4" cy="271.2" r="1.5" fill="#F7A823"/><circle cx="296.5" cy="344.5" r="1.5" fill="#F7A823"/><circle cx="298.8" cy="292.6" r="1.5" fill="#F7A823"/><circle cx="293.6" cy="269.3" r="1.5" fill="#F7A823"/><circle cx="296.5" cy="343.9" r="1.5" fill="#F7A823"/><circle cx="303.2" cy="308.6" r="1.5" fill="#F7A823"/><circle cx="303.6" cy="300.4" r="1.5" fill="#F7A823"/><circle cx="294.0" cy="332.9" r="1.5" fill="#F7A823"/><circle cx="295.6" cy="282.8" r="1.5" fill="#F7A823"/><circle cx="300.4" cy="281.7" r="1.5" fill="#F7A823"/><circle cx="297.3" cy="283.6" r="1.5" fill="#F7A823"/><circle cx="310.2" cy="269.3" r="1.5" fill="#F7A823"/><circle cx="297.4" cy="293.0" r="1.5" fill="#F7A823"/><circle cx="301.8" cy="313.4" r="1.5" fill="#F7A823"/><circle cx="304.7" cy="299.2" r="1.5" fill="#F7A823"/><circle cx="297.4" cy="306.4" r="1.5" fill="#F7A823"/><circle cx="293.6" cy="308.3" r="1.5" fill="#F7A823"/><circle cx="294.3" cy="301.0" r="1.5" fill="#F7A823"/><circle cx="309.9" cy="249.5" r="1.5" fill="#F7A823"/><circle cx="298.8" cy="274.2" r="1.5" fill="#F7A823"/><circle cx="296.2" cy="325.0" r="1.5" fill="#F7A823"/><circle cx="298.5" cy="290.3" r="1.5" fill="#F7A823"/><circle cx="300.4" cy="311.1" r="1.5" fill="#F7A823"/><circle cx="301.1" cy="266.2" r="1.5" fill="#F7A823"/><circle cx="295.5" cy="282.5" r="1.5" fill="#F7A823"/><circle cx="295.6" cy="328.7" r="1.5" fill="#F7A823"/><circle cx="299.9" cy="311.6" r="1.5" fill="#F7A823"/><circle cx="295.1" cy="339.5" r="1.5" fill="#F7A823"/><circle cx="296.5" cy="315.9" r="1.5" fill="#F7A823"/><circle cx="299.5" cy="307.3" r="1.5" fill="#F7A823"/><circle cx="297.8" cy="302.1" r="1.5" fill="#F7A823"/><circle cx="304.2" cy="304.3" r="1.5" fill="#F7A823"/><circle cx="299.7" cy="322.9" r="1.5" fill="#F7A823"/><circle cx="294.2" cy="341.7" r="1.5" fill="#F7A823"/><circle cx="302.8" cy="311.4" r="1.5" fill="#F7A823"/><circle cx="293.8" cy="334.0" r="1.5" fill="#F7A823"/><circle cx="298.5" cy="268.2" r="1.5" fill="#F7A823"/><circle cx="295.5" cy="261.7" r="1.5" fill="#F7A823"/><circle cx="304.3" cy="261.8" r="1.5" fill="#F7A823"/><circle cx="298.7" cy="329.6" r="1.5" fill="#F7A823"/><circle cx="304.3" cy="272.1" r="1.5" fill="#F7A823"/><circle cx="293.9" cy="319.8" r="1.5" fill="#F7A823"/><circle cx="299.3" cy="337.3" r="1.5" fill="#F7A823"/><circle cx="309.5" cy="279.4" r="1.5" fill="#F7A823"/><circle cx="297.5" cy="297.1" r="1.5" fill="#F7A823"/><circle cx="298.0" cy="345.3" r="1.5" fill="#F7A823"/><circle cx="298.1" cy="273.0" r="1.5" fill="#F7A823"/><circle cx="295.3" cy="307.6" r="1.5" fill="#F7A823"/><circle cx="296.1" cy="276.8" r="1.5" fill="#F7A823"/><circle cx="293.6" cy="324.8" r="1.5" fill="#F7A823"/><circle cx="296.1" cy="310.9" r="1.5" fill="#F7A823"/><circle cx="297.1" cy="252.8" r="1.5" fill="#F7A823"/><circle cx="296.5" cy="316.8" r="1.5" fill="#F7A823"/><circle cx="314.5" cy="260.5" r="1.5" fill="#F7A823"/><circle cx="299.3" cy="330.0" r="1.5" fill="#F7A823"/><circle cx="295.7" cy="266.0" r="1.5" fill="#F7A823"/><circle cx="308.2" cy="256.7" r="1.5" fill="#F7A823"/><circle cx="294.1" cy="284.8" r="1.5" fill="#F7A823"/><circle cx="304.5" cy="299.3" r="1.5" fill="#F7A823"/><circle cx="294.2" cy="332.4" r="1.5" fill="#F7A823"/><circle cx="295.3" cy="237.0" r="1.6" fill="#F7A823"/><circle cx="305.8" cy="237.0" r="1.6" fill="#F7A823"/><circle cx="325.0" cy="242.5" r="1.6" fill="#F7A823"/><circle cx="308.9" cy="245.0" r="1.6" fill="#F7A823"/><circle cx="311.5" cy="248.0" r="1.6" fill="#F7A823"/><circle cx="313.5" cy="252.0" r="1.6" fill="#F7A823"/><circle cx="305.0" cy="258.0" r="1.6" fill="#F7A823"/><circle cx="299.0" cy="267.0" r="1.6" fill="#F7A823"/><circle cx="303.0" cy="269.0" r="1.6" fill="#F7A823"/><circle cx="310.0" cy="272.0" r="1.6" fill="#F7A823"/><circle cx="316.0" cy="275.0" r="1.6" fill="#F7A823"/><circle cx="318.0" cy="280.0" r="1.6" fill="#F7A823"/><circle cx="313.0" cy="283.0" r="1.6" fill="#F7A823"/><circle cx="308.0" cy="288.0" r="1.6" fill="#F7A823"/><circle cx="312.0" cy="292.0" r="1.6" fill="#F7A823"/><circle cx="316.0" cy="296.0" r="1.6" fill="#F7A823"/><circle cx="319.0" cy="300.0" r="1.6" fill="#F7A823"/><circle cx="322.0" cy="304.0" r="1.6" fill="#F7A823"/><circle cx="318.0" cy="313.0" r="1.6" fill="#F7A823"/><circle cx="308.0" cy="318.0" r="1.6" fill="#F7A823"/><circle cx="312.0" cy="325.0" r="1.6" fill="#F7A823"/><circle cx="300.0" cy="333.0" r="1.6" fill="#F7A823"/><circle cx="326.0" cy="270.0" r="1.6" fill="#F7A823"/><circle cx="322.0" cy="290.0" r="1.6" fill="#F7A823"/><circle cx="327.0" cy="310.0" r="1.6" fill="#F7A823"/><circle cx="310.6" cy="285.2" r="1.5" fill="#F7A823"/><circle cx="297.1" cy="309.8" r="1.5" fill="#F7A823"/><circle cx="305.6" cy="298.9" r="1.5" fill="#F7A823"/><circle cx="295.1" cy="293.0" r="1.5" fill="#F7A823"/><circle cx="298.2" cy="257.5" r="1.5" fill="#F7A823"/><circle cx="297.1" cy="297.8" r="1.5" fill="#F7A823"/><circle cx="298.9" cy="284.1" r="1.5" fill="#F7A823"/><circle cx="309.9" cy="303.4" r="1.5" fill="#F7A823"/><circle cx="314.2" cy="278.5" r="1.5" fill="#F7A823"/><circle cx="305.6" cy="259.5" r="1.5" fill="#F7A823"/><circle cx="295.4" cy="305.0" r="1.5" fill="#F7A823"/><circle cx="303.0" cy="295.5" r="1.5" fill="#F7A823"/><circle cx="296.0" cy="309.5" r="1.5" fill="#F7A823"/><circle cx="312.4" cy="286.2" r="1.5" fill="#F7A823"/><circle cx="298.4" cy="291.8" r="1.5" fill="#F7A823"/><circle cx="308.3" cy="260.6" r="1.5" fill="#F7A823"/><circle cx="315.2" cy="282.5" r="1.5" fill="#F7A823"/><circle cx="306.5" cy="263.9" r="1.5" fill="#F7A823"/><circle cx="309.8" cy="301.5" r="1.5" fill="#F7A823"/><circle cx="298.0" cy="257.0" r="1.5" fill="#F7A823"/><circle cx="304.4" cy="258.9" r="1.5" fill="#F7A823"/><circle cx="312.5" cy="275.9" r="1.5" fill="#F7A823"/><circle cx="308.2" cy="277.0" r="1.5" fill="#F7A823"/><circle cx="296.6" cy="304.6" r="1.5" fill="#F7A823"/><circle cx="314.2" cy="287.2" r="1.5" fill="#F7A823"/><circle cx="299.8" cy="285.5" r="1.5" fill="#F7A823"/><circle cx="307.4" cy="271.0" r="1.5" fill="#F7A823"/><circle cx="302.9" cy="266.8" r="1.5" fill="#F7A823"/><circle cx="303.9" cy="287.1" r="1.5" fill="#F7A823"/><circle cx="303.4" cy="263.3" r="1.5" fill="#F7A823"/><circle cx="297.6" cy="307.3" r="1.5" fill="#F7A823"/><circle cx="311.0" cy="274.6" r="1.5" fill="#F7A823"/><circle cx="297.9" cy="288.4" r="1.5" fill="#F7A823"/><circle cx="304.0" cy="256.5" r="1.5" fill="#F7A823"/><circle cx="301.2" cy="275.5" r="1.5" fill="#F7A823"/><circle cx="304.1" cy="271.3" r="1.5" fill="#F7A823"/><circle cx="298.1" cy="296.8" r="1.5" fill="#F7A823"/><circle cx="309.1" cy="260.2" r="1.5" fill="#F7A823"/><circle cx="294.1" cy="307.0" r="1.5" fill="#F7A823"/><circle cx="307.1" cy="287.6" r="1.5" fill="#F7A823"/><circle cx="307.5" cy="278.6" r="1.5" fill="#F7A823"/><circle cx="301.8" cy="309.7" r="1.5" fill="#F7A823"/><circle cx="296.4" cy="277.9" r="1.5" fill="#F7A823"/><circle cx="295.5" cy="270.1" r="1.5" fill="#F7A823"/><circle cx="296.1" cy="262.2" r="1.5" fill="#F7A823"/><circle cx="301.6" cy="303.2" r="1.5" fill="#F7A823"/><circle cx="309.9" cy="301.1" r="1.5" fill="#F7A823"/><circle cx="294.4" cy="301.4" r="1.5" fill="#F7A823"/><circle cx="294.7" cy="307.9" r="1.5" fill="#F7A823"/><circle cx="308.5" cy="299.2" r="1.5" fill="#F7A823"/><circle cx="300.1" cy="292.8" r="1.5" fill="#F7A823"/><circle cx="294.6" cy="260.2" r="1.5" fill="#F7A823"/><circle cx="297.2" cy="291.6" r="1.5" fill="#F7A823"/><circle cx="297.9" cy="285.8" r="1.5" fill="#F7A823"/><circle cx="297.4" cy="265.2" r="1.5" fill="#F7A823"/><circle cx="301.4" cy="296.6" r="1.5" fill="#F7A823"/><circle cx="301.9" cy="278.0" r="1.5" fill="#F7A823"/><circle cx="303.1" cy="287.0" r="1.5" fill="#F7A823"/><circle cx="314.0" cy="280.9" r="1.5" fill="#F7A823"/><circle cx="296.7" cy="298.1" r="1.5" fill="#F7A823"/><circle cx="296.2" cy="273.8" r="1.5" fill="#F7A823"/><circle cx="294.2" cy="276.4" r="1.5" fill="#F7A823"/><circle cx="302.9" cy="297.7" r="1.5" fill="#F7A823"/><circle cx="311.8" cy="279.7" r="1.5" fill="#F7A823"/><circle cx="303.4" cy="274.4" r="1.5" fill="#F7A823"/><circle cx="301.4" cy="308.1" r="1.5" fill="#F7A823"/><circle cx="299.6" cy="290.3" r="1.5" fill="#F7A823"/><circle cx="304.3" cy="311.9" r="1.5" fill="#F7A823"/><circle cx="298.9" cy="273.0" r="1.5" fill="#F7A823"/><circle cx="302.9" cy="289.1" r="1.5" fill="#F7A823"/><circle cx="258.1" cy="314.8" r="1.3" fill="#5AAAF0"/><circle cx="260.4" cy="302.6" r="1.3" fill="#5AAAF0"/><circle cx="256.0" cy="292.7" r="1.3" fill="#5AAAF0"/><circle cx="262.6" cy="284.6" r="1.3" fill="#5AAAF0"/><circle cx="262.1" cy="282.4" r="1.3" fill="#5AAAF0"/><circle cx="262.0" cy="287.5" r="1.3" fill="#5AAAF0"/><circle cx="261.7" cy="270.4" r="1.3" fill="#5AAAF0"/><circle cx="260.0" cy="286.3" r="1.3" fill="#5AAAF0"/><circle cx="262.9" cy="277.7" r="1.3" fill="#5AAAF0"/><circle cx="260.2" cy="277.8" r="1.3" fill="#5AAAF0"/><circle cx="258.6" cy="292.3" r="1.3" fill="#5AAAF0"/><circle cx="261.1" cy="324.6" r="1.3" fill="#5AAAF0"/><circle cx="258.7" cy="269.7" r="1.3" fill="#5AAAF0"/><circle cx="261.3" cy="320.9" r="1.3" fill="#5AAAF0"/><circle cx="261.9" cy="313.3" r="1.3" fill="#5AAAF0"/><circle cx="257.7" cy="333.4" r="1.3" fill="#5AAAF0"/><circle cx="256.5" cy="323.8" r="1.3" fill="#5AAAF0"/><circle cx="260.2" cy="280.2" r="1.3" fill="#5AAAF0"/><circle cx="258.0" cy="319.0" r="1.3" fill="#5AAAF0"/><circle cx="262.6" cy="292.4" r="1.3" fill="#5AAAF0"/><circle cx="262.8" cy="310.9" r="1.3" fill="#5AAAF0"/><circle cx="263.0" cy="317.0" r="1.3" fill="#5AAAF0"/><circle cx="260.7" cy="297.5" r="1.3" fill="#5AAAF0"/><circle cx="260.7" cy="271.3" r="1.3" fill="#5AAAF0"/><circle cx="261.4" cy="301.0" r="1.3" fill="#5AAAF0"/><circle cx="257.4" cy="331.9" r="1.3" fill="#5AAAF0"/><circle cx="262.2" cy="331.5" r="1.3" fill="#5AAAF0"/><circle cx="261.4" cy="264.0" r="1.3" fill="#5AAAF0"/><circle cx="258.9" cy="270.9" r="1.3" fill="#5AAAF0"/><circle cx="262.7" cy="282.5" r="1.3" fill="#5AAAF0"/><path d="M263.5,230 V366 M293.2,230 V366" stroke="#444" stroke-width="0.9" stroke-dasharray="3.2,2.2" fill="none"/><path d="M200,352 H330" stroke="#666" stroke-width="0.9" stroke-dasharray="3.5,2.5" fill="none"/><path d="M199.9,230.6 V366.4 H330.3" stroke="#111" stroke-width="1.1" fill="none"/><path d="M196.8,236.80 H199.9" stroke="#111" stroke-width="0.9"/><text x="193.40" y="239.70" font-size="8.1" text-anchor="end" fill="#222" stroke="#222" stroke-width="0.06" >300</text><path d="M196.8,259.10 H199.9" stroke="#111" stroke-width="0.9"/><text x="193.40" y="262.00" font-size="8.1" text-anchor="end" fill="#222" stroke="#222" stroke-width="0.06" >200</text><path d="M196.8,287.80 H199.9" stroke="#111" stroke-width="0.9"/><text x="193.40" y="290.70" font-size="8.1" text-anchor="end" fill="#222" stroke="#222" stroke-width="0.06" >100</text><path d="M218.30,366.4 V369.2" stroke="#111" stroke-width="0.9"/><text x="218.30" y="378.40" font-size="7.9" text-anchor="middle" fill="#222" stroke="#222" stroke-width="0.06" >&#8722;4</text><path d="M248.40,366.4 V369.2" stroke="#111" stroke-width="0.9"/><text x="248.40" y="378.40" font-size="7.9" text-anchor="middle" fill="#222" stroke="#222" stroke-width="0.06" >&#8722;2</text><path d="M278.20,366.4 V369.2" stroke="#111" stroke-width="0.9"/><text x="278.20" y="378.40" font-size="7.9" text-anchor="middle" fill="#222" stroke="#222" stroke-width="0.06" >0</text><path d="M308.00,366.4 V369.2" stroke="#111" stroke-width="0.9"/><text x="308.00" y="378.40" font-size="7.9" text-anchor="middle" fill="#222" stroke="#222" stroke-width="0.06" >2</text><text x="264.80" y="390.20" font-size="8.8" text-anchor="middle" fill="#222" textLength="50.50" lengthAdjust="spacingAndGlyphs" stroke="#222" stroke-width="0.3">Log2-fold change</text><text x="174.20" y="295.60" font-size="8.4" text-anchor="middle" fill="#222" textLength="63.50" lengthAdjust="spacingAndGlyphs" transform="rotate(-90 174.20 295.60)" stroke="#222" stroke-width="0.3">-log10(adjusted P-value)</text><path d="M260.2,225.6 H206" stroke="#111" stroke-width="1.1"/><path d="M207,222.6 L203.2,225.6 L207,228.6Z" fill="#111"/><path d="M294.7,224.6 H326" stroke="#111" stroke-width="1.1"/><path d="M325.5,221.6 L329.3,224.6 L325.5,227.6Z" fill="#111"/><text x="231.30" y="214.50" font-size="6.2" text-anchor="middle" fill="#222" stroke="#222" stroke-width="0.06" textLength="42.30" lengthAdjust="spacingAndGlyphs" >Upregulated T1</text><text x="231.30" y="222.20" font-size="6.2" text-anchor="middle" fill="#222" stroke="#222" stroke-width="0.06" >N=73</text><text x="311.80" y="214.50" font-size="6.2" text-anchor="middle" fill="#222" stroke="#222" stroke-width="0.06" textLength="42.30" lengthAdjust="spacingAndGlyphs" >Upregulated T2</text><text x="311.80" y="222.20" font-size="6.2" text-anchor="middle" fill="#222" stroke="#222" stroke-width="0.06" >N=205</text><text x="208.30" y="239.30" font-size="7" text-anchor="start" fill="#333" stroke="#333" stroke-width="0.06" textLength="12.50" lengthAdjust="spacingAndGlyphs" >FOS</text><text x="228.50" y="238.80" font-size="6.9" text-anchor="start" font-style="italic" fill="#333" stroke="#333" stroke-width="0.06" textLength="10.50" lengthAdjust="spacingAndGlyphs" >JUN</text><text x="246.70" y="238.80" font-size="6.9" text-anchor="start" font-style="italic" fill="#333" stroke="#333" stroke-width="0.06" textLength="14.30" lengthAdjust="spacingAndGlyphs" >JUNB</text><text x="241.90" y="250.20" font-size="6.9" text-anchor="start" font-style="italic" fill="#333" stroke="#333" stroke-width="0.06" textLength="19.10" lengthAdjust="spacingAndGlyphs" >DUSP1</text><text x="241.00" y="280.30" font-size="6.9" text-anchor="start" font-style="italic" fill="#333" stroke="#333" stroke-width="0.06" textLength="20.20" lengthAdjust="spacingAndGlyphs" >NR4A2</text><text x="225.60" y="293.10" font-size="6.9" text-anchor="start" font-style="italic" fill="#333" stroke="#333" stroke-width="0.06" textLength="26.20" lengthAdjust="spacingAndGlyphs" >CHRNA1</text><text x="238.90" y="301.70" font-size="6.9" text-anchor="start" font-style="italic" fill="#333" stroke="#333" stroke-width="0.06" textLength="13.70" lengthAdjust="spacingAndGlyphs" >GEM</text><text x="241.00" y="309.70" font-size="6.9" text-anchor="start" font-style="italic" fill="#333" stroke="#333" stroke-width="0.06" textLength="22.70" lengthAdjust="spacingAndGlyphs" >GFOD1</text><text x="244.90" y="317.90" font-size="6.9" text-anchor="start" font-style="italic" fill="#333" stroke="#333" stroke-width="0.06" textLength="17.10" lengthAdjust="spacingAndGlyphs" >FOSB</text><text x="241.50" y="328.20" font-size="6.9" text-anchor="start" font-style="italic" fill="#333" stroke="#333" stroke-width="0.06" textLength="16.20" lengthAdjust="spacingAndGlyphs" >AREG</text><text x="311.80" y="239.90" font-size="6.9" text-anchor="start" font-style="italic" fill="#333" stroke="#333" stroke-width="0.06" textLength="23.00" lengthAdjust="spacingAndGlyphs" >CRISP3</text><text x="302.80" y="254.80" font-size="6.9" text-anchor="start" font-style="italic" fill="#333" stroke="#333" stroke-width="0.06" textLength="17.50" lengthAdjust="spacingAndGlyphs" >ITGA4</text><text x="297.90" y="271.30" font-size="6.9" text-anchor="start" font-style="italic" fill="#333" stroke="#333" stroke-width="0.06" textLength="17.10" lengthAdjust="spacingAndGlyphs" >RPRM</text><text x="316.20" y="273.80" font-size="6.9" text-anchor="start" font-style="italic" fill="#333" stroke="#333" stroke-width="0.06" textLength="17.60" lengthAdjust="spacingAndGlyphs" >SCG2</text><text x="313.30" y="280.30" font-size="6.9" text-anchor="start" font-style="italic" fill="#333" stroke="#333" stroke-width="0.06" textLength="17.90" lengthAdjust="spacingAndGlyphs" >IGRM</text><text x="297.00" y="286.60" font-size="6.9" text-anchor="start" font-style="italic" fill="#333" stroke="#333" stroke-width="0.06" textLength="22.60" lengthAdjust="spacingAndGlyphs" >DIAPH3</text><text x="302.20" y="292.60" font-size="6.9" text-anchor="start" font-style="italic" fill="#333" stroke="#333" stroke-width="0.06" textLength="24.20" lengthAdjust="spacingAndGlyphs" >AKR1C1</text><text x="310.70" y="298.20" font-size="6.9" text-anchor="start" font-style="italic" fill="#333" stroke="#333" stroke-width="0.06" textLength="21.30" lengthAdjust="spacingAndGlyphs" >HMOX1</text><text x="311.60" y="312.50" font-size="6.9" text-anchor="start" font-style="italic" fill="#333" stroke="#333" stroke-width="0.06" textLength="23.90" lengthAdjust="spacingAndGlyphs" >TBC1D9</text><text x="297.50" y="320.80" font-size="6.9" text-anchor="start" font-style="italic" fill="#333" stroke="#333" stroke-width="0.06" textLength="23.00" lengthAdjust="spacingAndGlyphs" >CNKSR3</text><text x="384.00" y="223.50" font-size="7.3" text-anchor="middle" fill="#222" stroke="#222" stroke-width="0.06" textLength="23.70" lengthAdjust="spacingAndGlyphs" >CD49d</text><text x="383.60" y="232.60" font-size="7.3" text-anchor="middle" fill="#222" stroke="#222" stroke-width="0.06" textLength="25.10" lengthAdjust="spacingAndGlyphs" >(<tspan font-style="italic">ITGA4</tspan>)</text><text x="423.00" y="233.00" font-size="7.3" text-anchor="middle" font-style="italic" fill="#222" stroke="#222" stroke-width="0.06" textLength="26.00" lengthAdjust="spacingAndGlyphs" >CX3CR1</text><text x="462.30" y="233.00" font-size="7.3" text-anchor="middle" font-style="italic" fill="#222" stroke="#222" stroke-width="0.06" textLength="22.00" lengthAdjust="spacingAndGlyphs" >FOXP3</text><text x="501.50" y="233.00" font-size="7.3" text-anchor="middle" font-style="italic" fill="#222" stroke="#222" stroke-width="0.06" textLength="17.00" lengthAdjust="spacingAndGlyphs" >TIGIT</text><text x="384.00" y="276.30" font-size="7.3" text-anchor="middle" font-style="italic" fill="#222" stroke="#222" stroke-width="0.06" textLength="22.00" lengthAdjust="spacingAndGlyphs" >KLF10</text><text x="423.00" y="276.30" font-size="7.3" text-anchor="middle" font-style="italic" fill="#222" stroke="#222" stroke-width="0.06" textLength="24.00" lengthAdjust="spacingAndGlyphs" >MCRS1</text><text x="462.30" y="276.30" font-size="7.3" text-anchor="middle" font-style="italic" fill="#222" stroke="#222" stroke-width="0.06" textLength="35.00" lengthAdjust="spacingAndGlyphs" >SMARCB1</text><text x="501.50" y="276.30" font-size="7.3" text-anchor="middle" font-style="italic" fill="#222" stroke="#222" stroke-width="0.06" textLength="38.00" lengthAdjust="spacingAndGlyphs" >SLC25A26</text><text x="359.50" y="277.00" font-size="7.8" text-anchor="middle" fill="#222" textLength="32.00" lengthAdjust="spacingAndGlyphs" transform="rotate(-90 359.50 277.00)" stroke="#222" stroke-width="0.35">mRNA level</text><path d="M366.9,264.4 H381.5" stroke="#555" stroke-width="1.0"/><path d="M374.3,245.2 V264.4" stroke="#5a5a5a" stroke-width="0.9"/><path d="M391.2,236.5 L391.4,248.0 L391.7,254.0 L392.3,256.3 L392.3,258.3 L391.7,260.0 L391.7,262.7 L392.1,263.4 L393.9,263.8 L396.5,264.1 L398.5,264.4 L396.5,264.8 L393.4,265.1 L388.4,265.1 L385.3,264.8 L383.3,264.4 L385.3,264.1 L387.9,263.8 L389.7,263.4 L390.1,262.7 L390.1,260.0 L389.5,258.3 L389.5,256.3 L390.1,254.0 L390.4,248.0 L390.6,236.5Z" fill="#F5B342" stroke="#2a1a08" stroke-width="0.6" stroke-linejoin="round"/><path d="M406.6,264.4 H421.2" stroke="#555" stroke-width="1.0"/><path d="M414.0,238.5 V264.4" stroke="#5a5a5a" stroke-width="0.9"/><path d="M430.2,236.5 L430.4,250.0 L430.6,255.0 L431.4,256.8 L431.4,259.2 L430.6,260.8 L430.7,262.7 L431.1,263.4 L432.9,263.8 L435.5,264.1 L437.5,264.4 L435.5,264.8 L432.4,265.1 L427.4,265.1 L424.3,264.8 L422.3,264.4 L424.3,264.1 L426.9,263.8 L428.7,263.4 L429.1,262.7 L429.2,260.8 L428.4,259.2 L428.4,256.8 L429.2,255.0 L429.4,250.0 L429.6,236.5Z" fill="#F5B342" stroke="#2a1a08" stroke-width="0.6" stroke-linejoin="round"/><path d="M445.9,264.4 H460.5" stroke="#555" stroke-width="1.0"/><path d="M453.3,238.1 V264.4" stroke="#5a5a5a" stroke-width="0.9"/><path d="M469.5,236.5 L469.7,240.0 L470.3,243.0 L470.9,246.0 L471.0,252.0 L470.7,255.5 L470.1,258.0 L470.0,260.5 L470.1,262.5 L470.3,263.4 L472.1,263.8 L474.7,264.1 L476.7,264.4 L474.7,264.8 L471.6,265.1 L466.6,265.1 L463.5,264.8 L461.5,264.4 L463.5,264.1 L466.1,263.8 L467.9,263.4 L468.1,262.5 L468.2,260.5 L468.1,258.0 L467.5,255.5 L467.2,252.0 L467.3,246.0 L467.9,243.0 L468.5,240.0 L468.8,236.5Z" fill="#F5B342" stroke="#2a1a08" stroke-width="0.6" stroke-linejoin="round"/><path d="M492.5,239.9 L492.6,252.0 L492.7,255.4 L493.6,257.2 L492.7,259.0 L492.6,261.5 L492.9,262.8 L493.5,263.4 L495.3,263.8 L497.9,264.1 L499.8,264.4 L497.9,264.8 L494.8,265.1 L489.8,265.1 L486.7,264.8 L484.8,264.4 L486.7,264.1 L489.3,263.8 L491.1,263.4 L491.7,262.8 L492.0,261.5 L491.9,259.0 L491.0,257.2 L491.9,255.4 L492.1,252.0 L492.1,239.9Z" fill="#8CC8EE" stroke="#10203a" stroke-width="0.65" stroke-linejoin="round"/><path d="M508.8,236.5 L509.0,240.0 L509.9,244.0 L511.2,248.0 L511.8,252.0 L511.4,255.0 L510.6,258.0 L510.1,260.5 L510.2,262.3 L509.6,263.4 L511.4,263.8 L514.0,264.1 L516.0,264.4 L514.0,264.8 L510.9,265.1 L505.9,265.1 L502.8,264.8 L500.8,264.4 L502.8,264.1 L505.4,263.8 L507.2,263.4 L506.6,262.3 L506.7,260.5 L506.2,258.0 L505.4,255.0 L505.0,252.0 L505.6,248.0 L506.9,244.0 L507.8,240.0 L508.0,236.5Z" fill="#F5B342" stroke="#2a1a08" stroke-width="0.6" stroke-linejoin="round"/><path d="M366.9,306.6 H381.5" stroke="#555" stroke-width="1.0"/><path d="M374.3,288.6 V306.6" stroke="#5a5a5a" stroke-width="0.9"/><path d="M391.2,279.6 L391.4,287.0 L392.1,291.0 L392.8,295.0 L392.9,298.5 L392.1,300.5 L391.7,302.5 L391.7,305.0 L392.1,305.6 L393.9,306.0 L396.5,306.4 L398.5,306.6 L396.5,307.0 L393.4,307.3 L388.4,307.3 L385.3,307.0 L383.3,306.6 L385.3,306.4 L387.9,306.0 L389.7,305.6 L390.1,305.0 L390.1,302.5 L389.7,300.5 L388.9,298.5 L389.0,295.0 L389.7,291.0 L390.4,287.0 L390.6,279.6Z" fill="#F5B342" stroke="#2a1a08" stroke-width="0.6" stroke-linejoin="round"/><path d="M406.6,306.6 H421.2" stroke="#555" stroke-width="1.0"/><path d="M414.0,280.2 V306.6" stroke="#5a5a5a" stroke-width="0.9"/><path d="M430.2,279.6 L430.3,290.0 L430.6,293.8 L431.4,294.8 L431.4,296.8 L430.6,298.0 L430.7,305.0 L431.1,305.6 L432.9,306.0 L435.5,306.4 L437.5,306.6 L435.5,307.0 L432.4,307.3 L427.4,307.3 L424.3,307.0 L422.3,306.6 L424.3,306.4 L426.9,306.0 L428.7,305.6 L429.1,305.0 L429.2,298.0 L428.4,296.8 L428.4,294.8 L429.2,293.8 L429.4,290.0 L429.6,279.6Z" fill="#F5B342" stroke="#2a1a08" stroke-width="0.6" stroke-linejoin="round"/><path d="M445.9,306.6 H460.5" stroke="#555" stroke-width="1.0"/><path d="M453.3,282.5 V306.6" stroke="#5a5a5a" stroke-width="0.9"/><path d="M469.4,279.6 L469.6,292.0 L469.8,295.0 L470.4,296.0 L470.4,299.5 L469.7,300.8 L469.9,305.0 L470.3,305.6 L472.1,306.0 L474.7,306.4 L476.7,306.6 L474.7,307.0 L471.6,307.3 L466.6,307.3 L463.5,307.0 L461.5,306.6 L463.5,306.4 L466.1,306.0 L467.9,305.6 L468.3,305.0 L468.5,300.8 L467.8,299.5 L467.8,296.0 L468.4,295.0 L468.7,292.0 L468.8,279.6Z" fill="#F5B342" stroke="#2a1a08" stroke-width="0.6" stroke-linejoin="round"/><path d="M484.9,306.6 H499.5" stroke="#555" stroke-width="1.0"/><path d="M492.3,282.5 V306.6" stroke="#5a5a5a" stroke-width="0.9"/><path d="M508.7,279.6 L508.9,282.0 L509.7,286.0 L510.7,291.0 L511.0,295.5 L510.4,299.0 L509.6,301.5 L509.4,303.5 L509.6,305.2 L509.6,305.6 L511.4,306.0 L514.0,306.4 L516.0,306.6 L514.0,307.0 L510.9,307.3 L505.9,307.3 L502.8,307.0 L500.8,306.6 L502.8,306.4 L505.4,306.0 L507.2,305.6 L507.2,305.2 L507.4,303.5 L507.2,301.5 L506.4,299.0 L505.8,295.5 L506.1,291.0 L507.1,286.0 L507.9,282.0 L508.1,279.6Z" fill="#F5B342" stroke="#2a1a08" stroke-width="0.6" stroke-linejoin="round"/><text x="374.30" y="315.30" font-size="7.4" text-anchor="middle" fill="#222" stroke="#222" stroke-width="0.06" >T1</text><text x="390.90" y="315.30" font-size="7.4" text-anchor="middle" fill="#222" stroke="#222" stroke-width="0.06" >T2</text><text x="414.00" y="315.30" font-size="7.4" text-anchor="middle" fill="#222" stroke="#222" stroke-width="0.06" >T1</text><text x="429.90" y="315.30" font-size="7.4" text-anchor="middle" fill="#222" stroke="#222" stroke-width="0.06" >T2</text><text x="453.30" y="315.30" font-size="7.4" text-anchor="middle" fill="#222" stroke="#222" stroke-width="0.06" >T1</text><text x="469.10" y="315.30" font-size="7.4" text-anchor="middle" fill="#222" stroke="#222" stroke-width="0.06" >T2</text><text x="492.30" y="315.30" font-size="7.4" text-anchor="middle" fill="#222" stroke="#222" stroke-width="0.06" >T1</text><text x="508.40" y="315.30" font-size="7.4" text-anchor="middle" fill="#222" stroke="#222" stroke-width="0.06" >T2</text><text x="354.60" y="374.20" font-size="8.3" text-anchor="middle" fill="#222" textLength="51.00" lengthAdjust="spacingAndGlyphs" transform="rotate(-90 354.60 374.20)" stroke="#222" stroke-width="0.3">Gene enrichment</text><text x="377.70" y="333.00" font-size="6.4" text-anchor="middle" fill="#222" stroke="#222" stroke-width="0.06" textLength="28.12" lengthAdjust="spacingAndGlyphs" >TCA cycle</text><text x="377.50" y="340.70" font-size="4.6" text-anchor="middle" fill="#333" textLength="35.00" lengthAdjust="spacingAndGlyphs" stroke="none">FDR = 7.14e-176</text><path d="M370.05,357.90 L370.75,357.90 L371.00,367.70 C371.90,372.70 377.20,377.74 377.20,383.50 C377.20,388.30 371.60,394.20 370.40,397.20 C369.20,394.20 363.60,388.30 363.60,383.50 C363.60,377.74 368.90,372.70 369.80,367.70 Z" fill="#6CB2EC" stroke="#141c30" stroke-width="1.0" stroke-linejoin="round"/><path d="M370.40,357.90 V370.70" stroke="#111" stroke-width="0.8"/><path d="M370.40,370.70 V395.70" stroke="#333" stroke-width="0.5"/><path d="M370.40,393.20 V397.20" stroke="#111" stroke-width="1.0"/><rect x="368.50" y="380.10" width="3.8" height="7.70" fill="#fff" stroke="#222" stroke-width="0.6"/><path d="M368.50,383.95 H372.30" stroke="#222" stroke-width="0.6"/><path d="M385.05,346.80 L385.75,346.80 L386.00,359.20 C386.90,364.20 391.80,370.18 391.80,376.70 C391.80,383.56 386.60,393.30 385.40,396.30 C384.20,393.30 379.00,383.56 379.00,376.70 C379.00,370.18 383.90,364.20 384.80,359.20 Z" fill="#F5B342" stroke="#1c1408" stroke-width="1.0" stroke-linejoin="round"/><path d="M385.40,346.80 V362.20" stroke="#111" stroke-width="0.8"/><path d="M385.40,362.20 V394.80" stroke="#333" stroke-width="0.5"/><path d="M385.40,392.30 V396.30" stroke="#111" stroke-width="1.0"/><rect x="383.50" y="373.30" width="3.8" height="10.20" fill="#fff" stroke="#222" stroke-width="0.6"/><path d="M383.50,378.40 H387.30" stroke="#222" stroke-width="0.6"/><path d="M361.00,345 V399.8 H394.50" stroke="#111" stroke-width="1.1" fill="none"/><text x="370.40" y="408.20" font-size="7.0" text-anchor="middle" fill="#222" stroke="#222" stroke-width="0.1">T1</text><text x="385.40" y="408.20" font-size="7.0" text-anchor="middle" fill="#222" stroke="#222" stroke-width="0.1">T2</text><text x="418.30" y="333.00" font-size="6.4" text-anchor="middle" fill="#222" stroke="#222" stroke-width="0.06" textLength="21.01" lengthAdjust="spacingAndGlyphs" >FA met.</text><text x="418.40" y="340.70" font-size="4.6" text-anchor="middle" fill="#333" textLength="36.70" lengthAdjust="spacingAndGlyphs" stroke="none">FDR = 3.57e-158</text><path d="M410.95,352.80 L411.65,352.80 L411.90,366.90 C412.80,371.90 418.10,377.38 418.10,383.50 C418.10,387.98 412.50,393.30 411.30,396.30 C410.10,393.30 404.50,387.98 404.50,383.50 C404.50,377.38 409.80,371.90 410.70,366.90 Z" fill="#6CB2EC" stroke="#141c30" stroke-width="1.0" stroke-linejoin="round"/><path d="M411.30,352.80 V369.90" stroke="#111" stroke-width="0.8"/><path d="M411.30,369.90 V394.80" stroke="#333" stroke-width="0.5"/><path d="M411.30,392.30 V396.30" stroke="#111" stroke-width="1.0"/><rect x="409.40" y="379.60" width="3.8" height="7.30" fill="#fff" stroke="#222" stroke-width="0.6"/><path d="M409.40,383.25 H413.20" stroke="#222" stroke-width="0.6"/><path d="M426.35,346.80 L427.05,346.80 L427.30,362.60 C428.20,367.60 432.70,372.64 432.70,378.40 C432.70,384.66 427.90,393.30 426.70,396.30 C425.50,393.30 420.70,384.66 420.70,378.40 C420.70,372.64 425.20,367.60 426.10,362.60 Z" fill="#F5B342" stroke="#1c1408" stroke-width="1.0" stroke-linejoin="round"/><path d="M426.70,346.80 V365.60" stroke="#111" stroke-width="0.8"/><path d="M426.70,365.60 V394.80" stroke="#333" stroke-width="0.5"/><path d="M426.70,392.30 V396.30" stroke="#111" stroke-width="1.0"/><rect x="424.80" y="373.30" width="3.8" height="9.40" fill="#fff" stroke="#222" stroke-width="0.6"/><path d="M424.80,378.00 H428.60" stroke="#222" stroke-width="0.6"/><path d="M401.80,345 V399.8 H435.30" stroke="#111" stroke-width="1.1" fill="none"/><text x="411.30" y="408.20" font-size="7.0" text-anchor="middle" fill="#222" stroke="#222" stroke-width="0.1">T1</text><text x="426.70" y="408.20" font-size="7.0" text-anchor="middle" fill="#222" stroke="#222" stroke-width="0.1">T2</text><text x="461.00" y="333.00" font-size="6.4" text-anchor="middle" fill="#222" stroke="#222" stroke-width="0.06" textLength="24.72" lengthAdjust="spacingAndGlyphs" >PP shunt</text><text x="461.30" y="340.70" font-size="4.6" text-anchor="middle" fill="#333" textLength="37.10" lengthAdjust="spacingAndGlyphs" stroke="none">FDR = 1.30e-137</text><path d="M452.95,354.50 L453.65,354.50 L453.90,360.90 C454.80,365.90 460.10,372.81 460.10,380.10 C460.10,386.09 454.50,394.20 453.30,397.20 C452.10,394.20 446.50,386.09 446.50,380.10 C446.50,372.81 451.80,365.90 452.70,360.90 Z" fill="#6CB2EC" stroke="#141c30" stroke-width="1.0" stroke-linejoin="round"/><path d="M453.30,354.50 V363.90" stroke="#111" stroke-width="0.8"/><path d="M453.30,363.90 V395.70" stroke="#333" stroke-width="0.5"/><path d="M453.30,393.20 V397.20" stroke="#111" stroke-width="1.0"/><rect x="451.40" y="375.00" width="3.8" height="9.70" fill="#fff" stroke="#222" stroke-width="0.6"/><path d="M451.40,379.85 H455.20" stroke="#222" stroke-width="0.6"/><path d="M468.65,346.80 L469.35,346.80 L469.60,355.80 C470.50,360.80 475.40,366.28 475.40,372.40 C475.40,380.76 470.20,393.30 469.00,396.30 C467.80,393.30 462.60,380.76 462.60,372.40 C462.60,366.28 467.50,360.80 468.40,355.80 Z" fill="#F5B342" stroke="#1c1408" stroke-width="1.0" stroke-linejoin="round"/><path d="M469.00,346.80 V358.80" stroke="#111" stroke-width="0.8"/><path d="M469.00,358.80 V394.80" stroke="#333" stroke-width="0.5"/><path d="M469.00,392.30 V396.30" stroke="#111" stroke-width="1.0"/><rect x="467.10" y="369.90" width="3.8" height="9.30" fill="#fff" stroke="#222" stroke-width="0.6"/><path d="M467.10,374.55 H470.90" stroke="#222" stroke-width="0.6"/><path d="M444.30,345 V399.8 H477.80" stroke="#111" stroke-width="1.1" fill="none"/><text x="453.30" y="408.20" font-size="7.0" text-anchor="middle" fill="#222" stroke="#222" stroke-width="0.1">T1</text><text x="469.00" y="408.20" font-size="7.0" text-anchor="middle" fill="#222" stroke="#222" stroke-width="0.1">T2</text><text x="500.00" y="333.00" font-size="6.4" text-anchor="middle" fill="#222" stroke="#222" stroke-width="0.06" textLength="34.92" lengthAdjust="spacingAndGlyphs" >Pyruvate met.</text><text x="500.70" y="340.70" font-size="4.6" text-anchor="middle" fill="#333" textLength="35.40" lengthAdjust="spacingAndGlyphs" stroke="none">FDR = 6.17e-151</text><path d="M493.35,357.10 L494.05,357.10 L494.30,364.30 C495.20,369.30 500.50,374.34 500.50,380.10 C500.50,386.09 494.90,394.20 493.70,397.20 C492.50,394.20 486.90,386.09 486.90,380.10 C486.90,374.34 492.20,369.30 493.10,364.30 Z" fill="#6CB2EC" stroke="#141c30" stroke-width="1.0" stroke-linejoin="round"/><path d="M493.70,357.10 V367.30" stroke="#111" stroke-width="0.8"/><path d="M493.70,367.30 V395.70" stroke="#333" stroke-width="0.5"/><path d="M493.70,393.20 V397.20" stroke="#111" stroke-width="1.0"/><rect x="491.80" y="376.70" width="3.8" height="7.70" fill="#fff" stroke="#222" stroke-width="0.6"/><path d="M491.80,380.55 H495.60" stroke="#222" stroke-width="0.6"/><path d="M508.75,346.80 L509.45,346.80 L509.70,359.20 C510.60,364.20 515.10,369.24 515.10,375.00 C515.10,382.45 510.30,393.30 509.10,396.30 C507.90,393.30 503.10,382.45 503.10,375.00 C503.10,369.24 507.60,364.20 508.50,359.20 Z" fill="#F5B342" stroke="#1c1408" stroke-width="1.0" stroke-linejoin="round"/><path d="M509.10,346.80 V362.20" stroke="#111" stroke-width="0.8"/><path d="M509.10,362.20 V394.80" stroke="#333" stroke-width="0.5"/><path d="M509.10,392.30 V396.30" stroke="#111" stroke-width="1.0"/><rect x="507.20" y="371.60" width="3.8" height="8.50" fill="#fff" stroke="#222" stroke-width="0.6"/><path d="M507.20,375.85 H511.00" stroke="#222" stroke-width="0.6"/><path d="M484.30,345 V399.8 H517.80" stroke="#111" stroke-width="1.1" fill="none"/><text x="493.70" y="408.20" font-size="7.0" text-anchor="middle" fill="#222" stroke="#222" stroke-width="0.1">T1</text><text x="509.10" y="408.20" font-size="7.0" text-anchor="middle" fill="#222" stroke="#222" stroke-width="0.1">T2</text></svg></body></html>
